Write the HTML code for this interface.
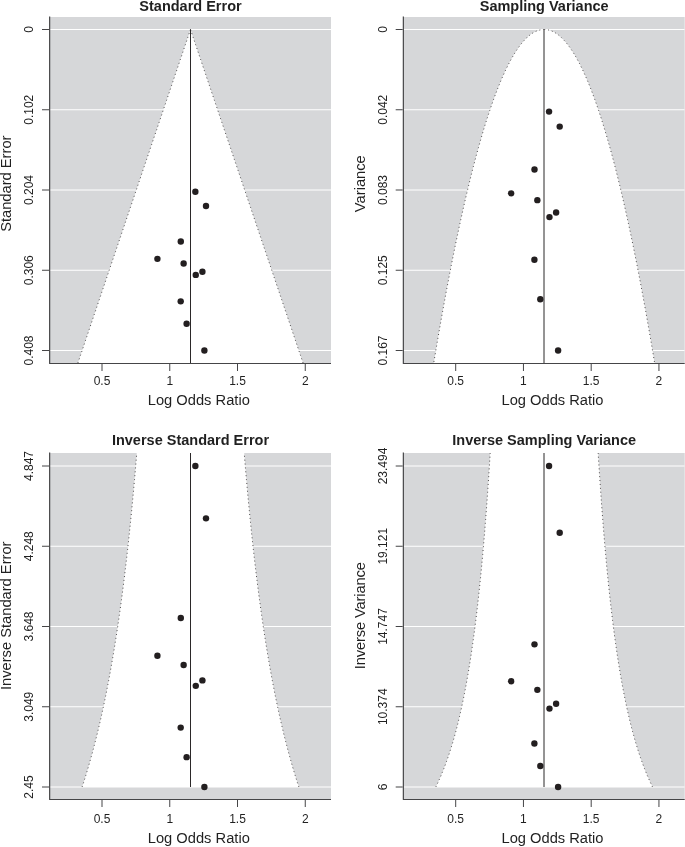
<!DOCTYPE html>
<html><head><meta charset="utf-8"><title>Funnel plots</title>
<style>
html,body{margin:0;padding:0;background:#fff;}
body{width:685px;height:847px;overflow:hidden;}
svg{display:block;font-family:"Liberation Sans",sans-serif;fill:#231f20;}
</style></head><body>
<svg width="685" height="847" viewBox="0 0 685 847">
<defs><filter id="gs" color-interpolation-filters="sRGB"><feColorMatrix type="saturate" values="0"/></filter></defs>
<rect width="685" height="847" fill="#fff"/>
<g transform="translate(0,0)">
<clipPath id="c1"><rect x="50.0" y="17.0" width="281" height="346.5"/></clipPath>
<rect x="50.0" y="17.0" width="281" height="346.5" fill="#d6d7d9"/>
<g clip-path="url(#c1)">
<line x1="50.0" x2="331" y1="29.5" y2="29.5" stroke="#fff" stroke-width="1"/>
<line x1="50.0" x2="331" y1="109.75" y2="109.75" stroke="#fff" stroke-width="1"/>
<line x1="50.0" x2="331" y1="190" y2="190" stroke="#fff" stroke-width="1"/>
<line x1="50.0" x2="331" y1="270.25" y2="270.25" stroke="#fff" stroke-width="1"/>
<line x1="50.0" x2="331" y1="350.5" y2="350.5" stroke="#fff" stroke-width="1"/>
<path d="M190.48,29.5 L190.18,30.39 L189.88,31.27 L189.59,32.16 L189.29,33.04 L188.99,33.93 L188.69,34.81 L188.39,35.7 L188.09,36.58 L187.79,37.47 L187.49,38.35 L187.19,39.24 L186.9,40.12 L186.6,41.01 L186.3,41.89 L186,42.78 L185.7,43.66 L185.4,44.55 L185.1,45.43 L184.8,46.32 L184.51,47.2 L184.21,48.09 L183.91,48.97 L183.61,49.86 L183.31,50.74 L183.01,51.63 L182.71,52.51 L182.41,53.4 L182.12,54.28 L181.82,55.17 L181.52,56.05 L181.22,56.94 L180.92,57.82 L180.62,58.71 L180.32,59.59 L180.02,60.48 L179.73,61.36 L179.43,62.25 L179.13,63.13 L178.83,64.02 L178.53,64.9 L178.23,65.79 L177.93,66.67 L177.63,67.56 L177.34,68.44 L177.04,69.33 L176.74,70.22 L176.44,71.1 L176.14,71.99 L175.84,72.87 L175.54,73.76 L175.24,74.64 L174.95,75.53 L174.65,76.41 L174.35,77.3 L174.05,78.18 L173.75,79.07 L173.45,79.95 L173.15,80.84 L172.85,81.72 L172.55,82.61 L172.26,83.49 L171.96,84.38 L171.66,85.26 L171.36,86.15 L171.06,87.03 L170.76,87.92 L170.46,88.8 L170.16,89.69 L169.87,90.57 L169.57,91.46 L169.27,92.34 L168.97,93.23 L168.67,94.11 L168.37,95 L168.07,95.88 L167.77,96.77 L167.48,97.65 L167.18,98.54 L166.88,99.42 L166.58,100.31 L166.28,101.19 L165.98,102.08 L165.68,102.96 L165.38,103.85 L165.09,104.73 L164.79,105.62 L164.49,106.5 L164.19,107.39 L163.89,108.27 L163.59,109.16 L163.29,110.05 L162.99,110.93 L162.7,111.82 L162.4,112.7 L162.1,113.59 L161.8,114.47 L161.5,115.36 L161.2,116.24 L160.9,117.13 L160.6,118.01 L160.3,118.9 L160.01,119.78 L159.71,120.67 L159.41,121.55 L159.11,122.44 L158.81,123.32 L158.51,124.21 L158.21,125.09 L157.91,125.98 L157.62,126.86 L157.32,127.75 L157.02,128.63 L156.72,129.52 L156.42,130.4 L156.12,131.29 L155.82,132.17 L155.52,133.06 L155.23,133.94 L154.93,134.83 L154.63,135.71 L154.33,136.6 L154.03,137.48 L153.73,138.37 L153.43,139.25 L153.13,140.14 L152.84,141.02 L152.54,141.91 L152.24,142.79 L151.94,143.68 L151.64,144.56 L151.34,145.45 L151.04,146.33 L150.74,147.22 L150.45,148.1 L150.15,148.99 L149.85,149.88 L149.55,150.76 L149.25,151.65 L148.95,152.53 L148.65,153.42 L148.35,154.3 L148.06,155.19 L147.76,156.07 L147.46,156.96 L147.16,157.84 L146.86,158.73 L146.56,159.61 L146.26,160.5 L145.96,161.38 L145.66,162.27 L145.37,163.15 L145.07,164.04 L144.77,164.92 L144.47,165.81 L144.17,166.69 L143.87,167.58 L143.57,168.46 L143.27,169.35 L142.98,170.23 L142.68,171.12 L142.38,172 L142.08,172.89 L141.78,173.77 L141.48,174.66 L141.18,175.54 L140.88,176.43 L140.59,177.31 L140.29,178.2 L139.99,179.08 L139.69,179.97 L139.39,180.85 L139.09,181.74 L138.79,182.62 L138.49,183.51 L138.2,184.39 L137.9,185.28 L137.6,186.16 L137.3,187.05 L137,187.93 L136.7,188.82 L136.4,189.7 L136.1,190.59 L135.81,191.48 L135.51,192.36 L135.21,193.25 L134.91,194.13 L134.61,195.02 L134.31,195.9 L134.01,196.79 L133.71,197.67 L133.41,198.56 L133.12,199.44 L132.82,200.33 L132.52,201.21 L132.22,202.1 L131.92,202.98 L131.62,203.87 L131.32,204.75 L131.02,205.64 L130.73,206.52 L130.43,207.41 L130.13,208.29 L129.83,209.18 L129.53,210.06 L129.23,210.95 L128.93,211.83 L128.63,212.72 L128.34,213.6 L128.04,214.49 L127.74,215.37 L127.44,216.26 L127.14,217.14 L126.84,218.03 L126.54,218.91 L126.24,219.8 L125.95,220.68 L125.65,221.57 L125.35,222.45 L125.05,223.34 L124.75,224.22 L124.45,225.11 L124.15,225.99 L123.85,226.88 L123.56,227.76 L123.26,228.65 L122.96,229.53 L122.66,230.42 L122.36,231.31 L122.06,232.19 L121.76,233.08 L121.46,233.96 L121.17,234.85 L120.87,235.73 L120.57,236.62 L120.27,237.5 L119.97,238.39 L119.67,239.27 L119.37,240.16 L119.07,241.04 L118.77,241.93 L118.48,242.81 L118.18,243.7 L117.88,244.58 L117.58,245.47 L117.28,246.35 L116.98,247.24 L116.68,248.12 L116.38,249.01 L116.09,249.89 L115.79,250.78 L115.49,251.66 L115.19,252.55 L114.89,253.43 L114.59,254.32 L114.29,255.2 L113.99,256.09 L113.7,256.97 L113.4,257.86 L113.1,258.74 L112.8,259.63 L112.5,260.51 L112.2,261.4 L111.9,262.28 L111.6,263.17 L111.31,264.05 L111.01,264.94 L110.71,265.82 L110.41,266.71 L110.11,267.59 L109.81,268.48 L109.51,269.36 L109.21,270.25 L108.92,271.14 L108.62,272.02 L108.32,272.91 L108.02,273.79 L107.72,274.68 L107.42,275.56 L107.12,276.45 L106.82,277.33 L106.53,278.22 L106.23,279.1 L105.93,279.99 L105.63,280.87 L105.33,281.76 L105.03,282.64 L104.73,283.53 L104.43,284.41 L104.13,285.3 L103.84,286.18 L103.54,287.07 L103.24,287.95 L102.94,288.84 L102.64,289.72 L102.34,290.61 L102.04,291.49 L101.74,292.38 L101.45,293.26 L101.15,294.15 L100.85,295.03 L100.55,295.92 L100.25,296.8 L99.95,297.69 L99.65,298.57 L99.35,299.46 L99.06,300.34 L98.76,301.23 L98.46,302.11 L98.16,303 L97.86,303.88 L97.56,304.77 L97.26,305.65 L96.96,306.54 L96.67,307.42 L96.37,308.31 L96.07,309.19 L95.77,310.08 L95.47,310.97 L95.17,311.85 L94.87,312.74 L94.57,313.62 L94.28,314.51 L93.98,315.39 L93.68,316.28 L93.38,317.16 L93.08,318.05 L92.78,318.93 L92.48,319.82 L92.18,320.7 L91.88,321.59 L91.59,322.47 L91.29,323.36 L90.99,324.24 L90.69,325.13 L90.39,326.01 L90.09,326.9 L89.79,327.78 L89.49,328.67 L89.2,329.55 L88.9,330.44 L88.6,331.32 L88.3,332.21 L88,333.09 L87.7,333.98 L87.4,334.86 L87.1,335.75 L86.81,336.63 L86.51,337.52 L86.21,338.4 L85.91,339.29 L85.61,340.17 L85.31,341.06 L85.01,341.94 L84.71,342.83 L84.42,343.71 L84.12,344.6 L83.82,345.48 L83.52,346.37 L83.22,347.25 L82.92,348.14 L82.62,349.02 L82.32,349.91 L82.03,350.8 L81.73,351.68 L81.43,352.57 L81.13,353.45 L80.83,354.34 L80.53,355.22 L80.23,356.11 L79.93,356.99 L79.64,357.88 L79.34,358.76 L79.04,359.65 L78.74,360.53 L78.44,361.42 L78.14,362.3 L77.84,363.19 L77.54,364.07 L77.24,364.96 L76.95,365.84 L76.65,366.73 L76.35,367.61 L76.05,368.5 L75.75,369.38 L75.45,370.27 L75.15,371.15 L74.85,372.04 L74.56,372.92 L74.26,373.81 L73.96,374.69 L73.66,375.58 L73.36,376.46 L73.06,377.35 L72.76,378.23 L72.46,379.12 L72.17,380 L71.87,380.89 L71.57,381.77 L71.27,382.66 L70.97,383.54 L309.99,383.54 L309.69,382.66 L309.39,381.77 L309.1,380.89 L308.8,380 L308.5,379.12 L308.2,378.23 L307.9,377.35 L307.6,376.46 L307.3,375.58 L307,374.69 L306.71,373.81 L306.41,372.92 L306.11,372.04 L305.81,371.15 L305.51,370.27 L305.21,369.38 L304.91,368.5 L304.61,367.61 L304.32,366.73 L304.02,365.84 L303.72,364.96 L303.42,364.07 L303.12,363.19 L302.82,362.3 L302.52,361.42 L302.22,360.53 L301.93,359.65 L301.63,358.76 L301.33,357.88 L301.03,356.99 L300.73,356.11 L300.43,355.22 L300.13,354.34 L299.83,353.45 L299.54,352.57 L299.24,351.68 L298.94,350.8 L298.64,349.91 L298.34,349.02 L298.04,348.14 L297.74,347.25 L297.44,346.37 L297.15,345.48 L296.85,344.6 L296.55,343.71 L296.25,342.83 L295.95,341.94 L295.65,341.06 L295.35,340.17 L295.05,339.29 L294.75,338.4 L294.46,337.52 L294.16,336.63 L293.86,335.75 L293.56,334.86 L293.26,333.98 L292.96,333.09 L292.66,332.21 L292.36,331.32 L292.07,330.44 L291.77,329.55 L291.47,328.67 L291.17,327.78 L290.87,326.9 L290.57,326.01 L290.27,325.13 L289.97,324.24 L289.68,323.36 L289.38,322.47 L289.08,321.59 L288.78,320.7 L288.48,319.82 L288.18,318.93 L287.88,318.05 L287.58,317.16 L287.29,316.28 L286.99,315.39 L286.69,314.51 L286.39,313.62 L286.09,312.74 L285.79,311.85 L285.49,310.97 L285.19,310.08 L284.9,309.19 L284.6,308.31 L284.3,307.42 L284,306.54 L283.7,305.65 L283.4,304.77 L283.1,303.88 L282.8,303 L282.5,302.11 L282.21,301.23 L281.91,300.34 L281.61,299.46 L281.31,298.57 L281.01,297.69 L280.71,296.8 L280.41,295.92 L280.11,295.03 L279.82,294.15 L279.52,293.26 L279.22,292.38 L278.92,291.49 L278.62,290.61 L278.32,289.72 L278.02,288.84 L277.72,287.95 L277.43,287.07 L277.13,286.18 L276.83,285.3 L276.53,284.41 L276.23,283.53 L275.93,282.64 L275.63,281.76 L275.33,280.87 L275.04,279.99 L274.74,279.1 L274.44,278.22 L274.14,277.33 L273.84,276.45 L273.54,275.56 L273.24,274.68 L272.94,273.79 L272.65,272.91 L272.35,272.02 L272.05,271.14 L271.75,270.25 L271.45,269.36 L271.15,268.48 L270.85,267.59 L270.55,266.71 L270.26,265.82 L269.96,264.94 L269.66,264.05 L269.36,263.17 L269.06,262.28 L268.76,261.4 L268.46,260.51 L268.16,259.63 L267.86,258.74 L267.57,257.86 L267.27,256.97 L266.97,256.09 L266.67,255.2 L266.37,254.32 L266.07,253.43 L265.77,252.55 L265.47,251.66 L265.18,250.78 L264.88,249.89 L264.58,249.01 L264.28,248.12 L263.98,247.24 L263.68,246.35 L263.38,245.47 L263.08,244.58 L262.79,243.7 L262.49,242.81 L262.19,241.93 L261.89,241.04 L261.59,240.16 L261.29,239.27 L260.99,238.39 L260.69,237.5 L260.4,236.62 L260.1,235.73 L259.8,234.85 L259.5,233.96 L259.2,233.08 L258.9,232.19 L258.6,231.31 L258.3,230.42 L258.01,229.53 L257.71,228.65 L257.41,227.76 L257.11,226.88 L256.81,225.99 L256.51,225.11 L256.21,224.22 L255.91,223.34 L255.61,222.45 L255.32,221.57 L255.02,220.68 L254.72,219.8 L254.42,218.91 L254.12,218.03 L253.82,217.14 L253.52,216.26 L253.22,215.37 L252.93,214.49 L252.63,213.6 L252.33,212.72 L252.03,211.83 L251.73,210.95 L251.43,210.06 L251.13,209.18 L250.83,208.29 L250.54,207.41 L250.24,206.52 L249.94,205.64 L249.64,204.75 L249.34,203.87 L249.04,202.98 L248.74,202.1 L248.44,201.21 L248.15,200.33 L247.85,199.44 L247.55,198.56 L247.25,197.67 L246.95,196.79 L246.65,195.9 L246.35,195.02 L246.05,194.13 L245.76,193.25 L245.46,192.36 L245.16,191.48 L244.86,190.59 L244.56,189.7 L244.26,188.82 L243.96,187.93 L243.66,187.05 L243.37,186.16 L243.07,185.28 L242.77,184.39 L242.47,183.51 L242.17,182.62 L241.87,181.74 L241.57,180.85 L241.27,179.97 L240.97,179.08 L240.68,178.2 L240.38,177.31 L240.08,176.43 L239.78,175.54 L239.48,174.66 L239.18,173.77 L238.88,172.89 L238.58,172 L238.29,171.12 L237.99,170.23 L237.69,169.35 L237.39,168.46 L237.09,167.58 L236.79,166.69 L236.49,165.81 L236.19,164.92 L235.9,164.04 L235.6,163.15 L235.3,162.27 L235,161.38 L234.7,160.5 L234.4,159.61 L234.1,158.73 L233.8,157.84 L233.51,156.96 L233.21,156.07 L232.91,155.19 L232.61,154.3 L232.31,153.42 L232.01,152.53 L231.71,151.65 L231.41,150.76 L231.12,149.88 L230.82,148.99 L230.52,148.1 L230.22,147.22 L229.92,146.33 L229.62,145.45 L229.32,144.56 L229.02,143.68 L228.73,142.79 L228.43,141.91 L228.13,141.02 L227.83,140.14 L227.53,139.25 L227.23,138.37 L226.93,137.48 L226.63,136.6 L226.33,135.71 L226.04,134.83 L225.74,133.94 L225.44,133.06 L225.14,132.17 L224.84,131.29 L224.54,130.4 L224.24,129.52 L223.94,128.63 L223.65,127.75 L223.35,126.86 L223.05,125.98 L222.75,125.09 L222.45,124.21 L222.15,123.32 L221.85,122.44 L221.55,121.55 L221.26,120.67 L220.96,119.78 L220.66,118.9 L220.36,118.01 L220.06,117.13 L219.76,116.24 L219.46,115.36 L219.16,114.47 L218.87,113.59 L218.57,112.7 L218.27,111.82 L217.97,110.93 L217.67,110.05 L217.37,109.16 L217.07,108.27 L216.77,107.39 L216.48,106.5 L216.18,105.62 L215.88,104.73 L215.58,103.85 L215.28,102.96 L214.98,102.08 L214.68,101.19 L214.38,100.31 L214.08,99.42 L213.79,98.54 L213.49,97.65 L213.19,96.77 L212.89,95.88 L212.59,95 L212.29,94.11 L211.99,93.23 L211.69,92.34 L211.4,91.46 L211.1,90.57 L210.8,89.69 L210.5,88.8 L210.2,87.92 L209.9,87.03 L209.6,86.15 L209.3,85.26 L209.01,84.38 L208.71,83.49 L208.41,82.61 L208.11,81.72 L207.81,80.84 L207.51,79.95 L207.21,79.07 L206.91,78.18 L206.62,77.3 L206.32,76.41 L206.02,75.53 L205.72,74.64 L205.42,73.76 L205.12,72.87 L204.82,71.99 L204.52,71.1 L204.23,70.22 L203.93,69.33 L203.63,68.44 L203.33,67.56 L203.03,66.67 L202.73,65.79 L202.43,64.9 L202.13,64.02 L201.84,63.13 L201.54,62.25 L201.24,61.36 L200.94,60.48 L200.64,59.59 L200.34,58.71 L200.04,57.82 L199.74,56.94 L199.44,56.05 L199.15,55.17 L198.85,54.28 L198.55,53.4 L198.25,52.51 L197.95,51.63 L197.65,50.74 L197.35,49.86 L197.05,48.97 L196.76,48.09 L196.46,47.2 L196.16,46.32 L195.86,45.43 L195.56,44.55 L195.26,43.66 L194.96,42.78 L194.66,41.89 L194.37,41.01 L194.07,40.12 L193.77,39.24 L193.47,38.35 L193.17,37.47 L192.87,36.58 L192.57,35.7 L192.27,34.81 L191.98,33.93 L191.68,33.04 L191.38,32.16 L191.08,31.27 L190.78,30.39 L190.48,29.5Z" fill="#fff"/>
<path d="M190.48,29.5 L190.18,30.39 L189.88,31.27 L189.59,32.16 L189.29,33.04 L188.99,33.93 L188.69,34.81 L188.39,35.7 L188.09,36.58 L187.79,37.47 L187.49,38.35 L187.19,39.24 L186.9,40.12 L186.6,41.01 L186.3,41.89 L186,42.78 L185.7,43.66 L185.4,44.55 L185.1,45.43 L184.8,46.32 L184.51,47.2 L184.21,48.09 L183.91,48.97 L183.61,49.86 L183.31,50.74 L183.01,51.63 L182.71,52.51 L182.41,53.4 L182.12,54.28 L181.82,55.17 L181.52,56.05 L181.22,56.94 L180.92,57.82 L180.62,58.71 L180.32,59.59 L180.02,60.48 L179.73,61.36 L179.43,62.25 L179.13,63.13 L178.83,64.02 L178.53,64.9 L178.23,65.79 L177.93,66.67 L177.63,67.56 L177.34,68.44 L177.04,69.33 L176.74,70.22 L176.44,71.1 L176.14,71.99 L175.84,72.87 L175.54,73.76 L175.24,74.64 L174.95,75.53 L174.65,76.41 L174.35,77.3 L174.05,78.18 L173.75,79.07 L173.45,79.95 L173.15,80.84 L172.85,81.72 L172.55,82.61 L172.26,83.49 L171.96,84.38 L171.66,85.26 L171.36,86.15 L171.06,87.03 L170.76,87.92 L170.46,88.8 L170.16,89.69 L169.87,90.57 L169.57,91.46 L169.27,92.34 L168.97,93.23 L168.67,94.11 L168.37,95 L168.07,95.88 L167.77,96.77 L167.48,97.65 L167.18,98.54 L166.88,99.42 L166.58,100.31 L166.28,101.19 L165.98,102.08 L165.68,102.96 L165.38,103.85 L165.09,104.73 L164.79,105.62 L164.49,106.5 L164.19,107.39 L163.89,108.27 L163.59,109.16 L163.29,110.05 L162.99,110.93 L162.7,111.82 L162.4,112.7 L162.1,113.59 L161.8,114.47 L161.5,115.36 L161.2,116.24 L160.9,117.13 L160.6,118.01 L160.3,118.9 L160.01,119.78 L159.71,120.67 L159.41,121.55 L159.11,122.44 L158.81,123.32 L158.51,124.21 L158.21,125.09 L157.91,125.98 L157.62,126.86 L157.32,127.75 L157.02,128.63 L156.72,129.52 L156.42,130.4 L156.12,131.29 L155.82,132.17 L155.52,133.06 L155.23,133.94 L154.93,134.83 L154.63,135.71 L154.33,136.6 L154.03,137.48 L153.73,138.37 L153.43,139.25 L153.13,140.14 L152.84,141.02 L152.54,141.91 L152.24,142.79 L151.94,143.68 L151.64,144.56 L151.34,145.45 L151.04,146.33 L150.74,147.22 L150.45,148.1 L150.15,148.99 L149.85,149.88 L149.55,150.76 L149.25,151.65 L148.95,152.53 L148.65,153.42 L148.35,154.3 L148.06,155.19 L147.76,156.07 L147.46,156.96 L147.16,157.84 L146.86,158.73 L146.56,159.61 L146.26,160.5 L145.96,161.38 L145.66,162.27 L145.37,163.15 L145.07,164.04 L144.77,164.92 L144.47,165.81 L144.17,166.69 L143.87,167.58 L143.57,168.46 L143.27,169.35 L142.98,170.23 L142.68,171.12 L142.38,172 L142.08,172.89 L141.78,173.77 L141.48,174.66 L141.18,175.54 L140.88,176.43 L140.59,177.31 L140.29,178.2 L139.99,179.08 L139.69,179.97 L139.39,180.85 L139.09,181.74 L138.79,182.62 L138.49,183.51 L138.2,184.39 L137.9,185.28 L137.6,186.16 L137.3,187.05 L137,187.93 L136.7,188.82 L136.4,189.7 L136.1,190.59 L135.81,191.48 L135.51,192.36 L135.21,193.25 L134.91,194.13 L134.61,195.02 L134.31,195.9 L134.01,196.79 L133.71,197.67 L133.41,198.56 L133.12,199.44 L132.82,200.33 L132.52,201.21 L132.22,202.1 L131.92,202.98 L131.62,203.87 L131.32,204.75 L131.02,205.64 L130.73,206.52 L130.43,207.41 L130.13,208.29 L129.83,209.18 L129.53,210.06 L129.23,210.95 L128.93,211.83 L128.63,212.72 L128.34,213.6 L128.04,214.49 L127.74,215.37 L127.44,216.26 L127.14,217.14 L126.84,218.03 L126.54,218.91 L126.24,219.8 L125.95,220.68 L125.65,221.57 L125.35,222.45 L125.05,223.34 L124.75,224.22 L124.45,225.11 L124.15,225.99 L123.85,226.88 L123.56,227.76 L123.26,228.65 L122.96,229.53 L122.66,230.42 L122.36,231.31 L122.06,232.19 L121.76,233.08 L121.46,233.96 L121.17,234.85 L120.87,235.73 L120.57,236.62 L120.27,237.5 L119.97,238.39 L119.67,239.27 L119.37,240.16 L119.07,241.04 L118.77,241.93 L118.48,242.81 L118.18,243.7 L117.88,244.58 L117.58,245.47 L117.28,246.35 L116.98,247.24 L116.68,248.12 L116.38,249.01 L116.09,249.89 L115.79,250.78 L115.49,251.66 L115.19,252.55 L114.89,253.43 L114.59,254.32 L114.29,255.2 L113.99,256.09 L113.7,256.97 L113.4,257.86 L113.1,258.74 L112.8,259.63 L112.5,260.51 L112.2,261.4 L111.9,262.28 L111.6,263.17 L111.31,264.05 L111.01,264.94 L110.71,265.82 L110.41,266.71 L110.11,267.59 L109.81,268.48 L109.51,269.36 L109.21,270.25 L108.92,271.14 L108.62,272.02 L108.32,272.91 L108.02,273.79 L107.72,274.68 L107.42,275.56 L107.12,276.45 L106.82,277.33 L106.53,278.22 L106.23,279.1 L105.93,279.99 L105.63,280.87 L105.33,281.76 L105.03,282.64 L104.73,283.53 L104.43,284.41 L104.13,285.3 L103.84,286.18 L103.54,287.07 L103.24,287.95 L102.94,288.84 L102.64,289.72 L102.34,290.61 L102.04,291.49 L101.74,292.38 L101.45,293.26 L101.15,294.15 L100.85,295.03 L100.55,295.92 L100.25,296.8 L99.95,297.69 L99.65,298.57 L99.35,299.46 L99.06,300.34 L98.76,301.23 L98.46,302.11 L98.16,303 L97.86,303.88 L97.56,304.77 L97.26,305.65 L96.96,306.54 L96.67,307.42 L96.37,308.31 L96.07,309.19 L95.77,310.08 L95.47,310.97 L95.17,311.85 L94.87,312.74 L94.57,313.62 L94.28,314.51 L93.98,315.39 L93.68,316.28 L93.38,317.16 L93.08,318.05 L92.78,318.93 L92.48,319.82 L92.18,320.7 L91.88,321.59 L91.59,322.47 L91.29,323.36 L90.99,324.24 L90.69,325.13 L90.39,326.01 L90.09,326.9 L89.79,327.78 L89.49,328.67 L89.2,329.55 L88.9,330.44 L88.6,331.32 L88.3,332.21 L88,333.09 L87.7,333.98 L87.4,334.86 L87.1,335.75 L86.81,336.63 L86.51,337.52 L86.21,338.4 L85.91,339.29 L85.61,340.17 L85.31,341.06 L85.01,341.94 L84.71,342.83 L84.42,343.71 L84.12,344.6 L83.82,345.48 L83.52,346.37 L83.22,347.25 L82.92,348.14 L82.62,349.02 L82.32,349.91 L82.03,350.8 L81.73,351.68 L81.43,352.57 L81.13,353.45 L80.83,354.34 L80.53,355.22 L80.23,356.11 L79.93,356.99 L79.64,357.88 L79.34,358.76 L79.04,359.65 L78.74,360.53 L78.44,361.42 L78.14,362.3 L77.84,363.19 L77.54,364.07 L77.24,364.96 L76.95,365.84 L76.65,366.73 L76.35,367.61 L76.05,368.5 L75.75,369.38 L75.45,370.27 L75.15,371.15 L74.85,372.04 L74.56,372.92 L74.26,373.81 L73.96,374.69 L73.66,375.58 L73.36,376.46 L73.06,377.35 L72.76,378.23 L72.46,379.12 L72.17,380 L71.87,380.89 L71.57,381.77 L71.27,382.66 L70.97,383.54" fill="none" stroke="#231f20" stroke-width="0.8" stroke-dasharray="1 2.9"/>
<path d="M190.48,29.5 L190.78,30.39 L191.08,31.27 L191.38,32.16 L191.68,33.04 L191.98,33.93 L192.27,34.81 L192.57,35.7 L192.87,36.58 L193.17,37.47 L193.47,38.35 L193.77,39.24 L194.07,40.12 L194.37,41.01 L194.66,41.89 L194.96,42.78 L195.26,43.66 L195.56,44.55 L195.86,45.43 L196.16,46.32 L196.46,47.2 L196.76,48.09 L197.05,48.97 L197.35,49.86 L197.65,50.74 L197.95,51.63 L198.25,52.51 L198.55,53.4 L198.85,54.28 L199.15,55.17 L199.44,56.05 L199.74,56.94 L200.04,57.82 L200.34,58.71 L200.64,59.59 L200.94,60.48 L201.24,61.36 L201.54,62.25 L201.84,63.13 L202.13,64.02 L202.43,64.9 L202.73,65.79 L203.03,66.67 L203.33,67.56 L203.63,68.44 L203.93,69.33 L204.23,70.22 L204.52,71.1 L204.82,71.99 L205.12,72.87 L205.42,73.76 L205.72,74.64 L206.02,75.53 L206.32,76.41 L206.62,77.3 L206.91,78.18 L207.21,79.07 L207.51,79.95 L207.81,80.84 L208.11,81.72 L208.41,82.61 L208.71,83.49 L209.01,84.38 L209.3,85.26 L209.6,86.15 L209.9,87.03 L210.2,87.92 L210.5,88.8 L210.8,89.69 L211.1,90.57 L211.4,91.46 L211.69,92.34 L211.99,93.23 L212.29,94.11 L212.59,95 L212.89,95.88 L213.19,96.77 L213.49,97.65 L213.79,98.54 L214.08,99.42 L214.38,100.31 L214.68,101.19 L214.98,102.08 L215.28,102.96 L215.58,103.85 L215.88,104.73 L216.18,105.62 L216.48,106.5 L216.77,107.39 L217.07,108.27 L217.37,109.16 L217.67,110.05 L217.97,110.93 L218.27,111.82 L218.57,112.7 L218.87,113.59 L219.16,114.47 L219.46,115.36 L219.76,116.24 L220.06,117.13 L220.36,118.01 L220.66,118.9 L220.96,119.78 L221.26,120.67 L221.55,121.55 L221.85,122.44 L222.15,123.32 L222.45,124.21 L222.75,125.09 L223.05,125.98 L223.35,126.86 L223.65,127.75 L223.94,128.63 L224.24,129.52 L224.54,130.4 L224.84,131.29 L225.14,132.17 L225.44,133.06 L225.74,133.94 L226.04,134.83 L226.33,135.71 L226.63,136.6 L226.93,137.48 L227.23,138.37 L227.53,139.25 L227.83,140.14 L228.13,141.02 L228.43,141.91 L228.73,142.79 L229.02,143.68 L229.32,144.56 L229.62,145.45 L229.92,146.33 L230.22,147.22 L230.52,148.1 L230.82,148.99 L231.12,149.88 L231.41,150.76 L231.71,151.65 L232.01,152.53 L232.31,153.42 L232.61,154.3 L232.91,155.19 L233.21,156.07 L233.51,156.96 L233.8,157.84 L234.1,158.73 L234.4,159.61 L234.7,160.5 L235,161.38 L235.3,162.27 L235.6,163.15 L235.9,164.04 L236.19,164.92 L236.49,165.81 L236.79,166.69 L237.09,167.58 L237.39,168.46 L237.69,169.35 L237.99,170.23 L238.29,171.12 L238.58,172 L238.88,172.89 L239.18,173.77 L239.48,174.66 L239.78,175.54 L240.08,176.43 L240.38,177.31 L240.68,178.2 L240.97,179.08 L241.27,179.97 L241.57,180.85 L241.87,181.74 L242.17,182.62 L242.47,183.51 L242.77,184.39 L243.07,185.28 L243.37,186.16 L243.66,187.05 L243.96,187.93 L244.26,188.82 L244.56,189.7 L244.86,190.59 L245.16,191.48 L245.46,192.36 L245.76,193.25 L246.05,194.13 L246.35,195.02 L246.65,195.9 L246.95,196.79 L247.25,197.67 L247.55,198.56 L247.85,199.44 L248.15,200.33 L248.44,201.21 L248.74,202.1 L249.04,202.98 L249.34,203.87 L249.64,204.75 L249.94,205.64 L250.24,206.52 L250.54,207.41 L250.83,208.29 L251.13,209.18 L251.43,210.06 L251.73,210.95 L252.03,211.83 L252.33,212.72 L252.63,213.6 L252.93,214.49 L253.22,215.37 L253.52,216.26 L253.82,217.14 L254.12,218.03 L254.42,218.91 L254.72,219.8 L255.02,220.68 L255.32,221.57 L255.61,222.45 L255.91,223.34 L256.21,224.22 L256.51,225.11 L256.81,225.99 L257.11,226.88 L257.41,227.76 L257.71,228.65 L258.01,229.53 L258.3,230.42 L258.6,231.31 L258.9,232.19 L259.2,233.08 L259.5,233.96 L259.8,234.85 L260.1,235.73 L260.4,236.62 L260.69,237.5 L260.99,238.39 L261.29,239.27 L261.59,240.16 L261.89,241.04 L262.19,241.93 L262.49,242.81 L262.79,243.7 L263.08,244.58 L263.38,245.47 L263.68,246.35 L263.98,247.24 L264.28,248.12 L264.58,249.01 L264.88,249.89 L265.18,250.78 L265.47,251.66 L265.77,252.55 L266.07,253.43 L266.37,254.32 L266.67,255.2 L266.97,256.09 L267.27,256.97 L267.57,257.86 L267.86,258.74 L268.16,259.63 L268.46,260.51 L268.76,261.4 L269.06,262.28 L269.36,263.17 L269.66,264.05 L269.96,264.94 L270.26,265.82 L270.55,266.71 L270.85,267.59 L271.15,268.48 L271.45,269.36 L271.75,270.25 L272.05,271.14 L272.35,272.02 L272.65,272.91 L272.94,273.79 L273.24,274.68 L273.54,275.56 L273.84,276.45 L274.14,277.33 L274.44,278.22 L274.74,279.1 L275.04,279.99 L275.33,280.87 L275.63,281.76 L275.93,282.64 L276.23,283.53 L276.53,284.41 L276.83,285.3 L277.13,286.18 L277.43,287.07 L277.72,287.95 L278.02,288.84 L278.32,289.72 L278.62,290.61 L278.92,291.49 L279.22,292.38 L279.52,293.26 L279.82,294.15 L280.11,295.03 L280.41,295.92 L280.71,296.8 L281.01,297.69 L281.31,298.57 L281.61,299.46 L281.91,300.34 L282.21,301.23 L282.5,302.11 L282.8,303 L283.1,303.88 L283.4,304.77 L283.7,305.65 L284,306.54 L284.3,307.42 L284.6,308.31 L284.9,309.19 L285.19,310.08 L285.49,310.97 L285.79,311.85 L286.09,312.74 L286.39,313.62 L286.69,314.51 L286.99,315.39 L287.29,316.28 L287.58,317.16 L287.88,318.05 L288.18,318.93 L288.48,319.82 L288.78,320.7 L289.08,321.59 L289.38,322.47 L289.68,323.36 L289.97,324.24 L290.27,325.13 L290.57,326.01 L290.87,326.9 L291.17,327.78 L291.47,328.67 L291.77,329.55 L292.07,330.44 L292.36,331.32 L292.66,332.21 L292.96,333.09 L293.26,333.98 L293.56,334.86 L293.86,335.75 L294.16,336.63 L294.46,337.52 L294.75,338.4 L295.05,339.29 L295.35,340.17 L295.65,341.06 L295.95,341.94 L296.25,342.83 L296.55,343.71 L296.85,344.6 L297.15,345.48 L297.44,346.37 L297.74,347.25 L298.04,348.14 L298.34,349.02 L298.64,349.91 L298.94,350.8 L299.24,351.68 L299.54,352.57 L299.83,353.45 L300.13,354.34 L300.43,355.22 L300.73,356.11 L301.03,356.99 L301.33,357.88 L301.63,358.76 L301.93,359.65 L302.22,360.53 L302.52,361.42 L302.82,362.3 L303.12,363.19 L303.42,364.07 L303.72,364.96 L304.02,365.84 L304.32,366.73 L304.61,367.61 L304.91,368.5 L305.21,369.38 L305.51,370.27 L305.81,371.15 L306.11,372.04 L306.41,372.92 L306.71,373.81 L307,374.69 L307.3,375.58 L307.6,376.46 L307.9,377.35 L308.2,378.23 L308.5,379.12 L308.8,380 L309.1,380.89 L309.39,381.77 L309.69,382.66 L309.99,383.54" fill="none" stroke="#231f20" stroke-width="0.8" stroke-dasharray="1 2.9"/>
</g>
<line x1="190.5" x2="190.5" y1="29.5" y2="363.5" stroke="#2b2829" stroke-width="1"/>
<circle cx="195.36" cy="191.82" r="3.2" fill="#231f20"/>
<circle cx="206" cy="206.05" r="3.2" fill="#231f20"/>
<circle cx="180.79" cy="241.45" r="3.2" fill="#231f20"/>
<circle cx="157.42" cy="258.84" r="3.2" fill="#231f20"/>
<circle cx="183.65" cy="263.56" r="3.2" fill="#231f20"/>
<circle cx="202.41" cy="271.82" r="3.2" fill="#231f20"/>
<circle cx="195.77" cy="274.89" r="3.2" fill="#231f20"/>
<circle cx="180.7" cy="301.33" r="3.2" fill="#231f20"/>
<circle cx="186.61" cy="323.75" r="3.2" fill="#231f20"/>
<circle cx="204.4" cy="350.5" r="3.2" fill="#231f20"/>
<path d="M49.65,16.5 V363.5 H331" fill="none" stroke="#454547" stroke-width="1.2" stroke-linejoin="round"/>
<line x1="42" x2="49" y1="29.5" y2="29.5" stroke="#454547" stroke-width="1"/>
<line x1="42" x2="49" y1="109.75" y2="109.75" stroke="#454547" stroke-width="1"/>
<line x1="42" x2="49" y1="190" y2="190" stroke="#454547" stroke-width="1"/>
<line x1="42" x2="49" y1="270.25" y2="270.25" stroke="#454547" stroke-width="1"/>
<line x1="42" x2="49" y1="350.5" y2="350.5" stroke="#454547" stroke-width="1"/>
<line x1="102" x2="102" y1="364" y2="371" stroke="#454547" stroke-width="1"/>
<line x1="169.75" x2="169.75" y1="364" y2="371" stroke="#454547" stroke-width="1"/>
<line x1="237.5" x2="237.5" y1="364" y2="371" stroke="#454547" stroke-width="1"/>
<line x1="305.25" x2="305.25" y1="364" y2="371" stroke="#454547" stroke-width="1"/>
<g filter="url(#gs)"><text transform="translate(32.8,29.5) rotate(-90)" text-anchor="middle" font-size="12">0</text>
<text transform="translate(32.8,109.75) rotate(-90)" text-anchor="middle" font-size="12">0.102</text>
<text transform="translate(32.8,190) rotate(-90)" text-anchor="middle" font-size="12">0.204</text>
<text transform="translate(32.8,270.25) rotate(-90)" text-anchor="middle" font-size="12">0.306</text>
<text transform="translate(32.8,350.5) rotate(-90)" text-anchor="middle" font-size="12">0.408</text>
<text x="102" y="384.9" text-anchor="middle" font-size="12">0.5</text>
<text x="169.75" y="384.9" text-anchor="middle" font-size="12">1</text>
<text x="237.5" y="384.9" text-anchor="middle" font-size="12">1.5</text>
<text x="305.25" y="384.9" text-anchor="middle" font-size="12">2</text>
<text x="198.8" y="404.7" text-anchor="middle" font-size="14.7">Log Odds Ratio</text>
<text x="190.5" y="10.5" text-anchor="middle" font-size="14.5" font-weight="bold">Standard Error</text>
<text transform="translate(11.1,183.7) rotate(-90)" text-anchor="middle" font-size="14.7">Standard Error</text></g>
</g>
<g transform="translate(353.7,0)">
<clipPath id="c2"><rect x="50.0" y="17.0" width="281" height="346.5"/></clipPath>
<rect x="50.0" y="17.0" width="281" height="346.5" fill="#d6d7d9"/>
<g clip-path="url(#c2)">
<line x1="50.0" x2="331" y1="29.5" y2="29.5" stroke="#fff" stroke-width="1"/>
<line x1="50.0" x2="331" y1="109.75" y2="109.75" stroke="#fff" stroke-width="1"/>
<line x1="50.0" x2="331" y1="190" y2="190" stroke="#fff" stroke-width="1"/>
<line x1="50.0" x2="331" y1="270.25" y2="270.25" stroke="#fff" stroke-width="1"/>
<line x1="50.0" x2="331" y1="350.5" y2="350.5" stroke="#fff" stroke-width="1"/>
<path d="M190.48,29.5 L190.18,29.5 L189.88,29.51 L189.59,29.52 L189.29,29.54 L188.99,29.56 L188.69,29.59 L188.39,29.62 L188.09,29.66 L187.79,29.7 L187.49,29.74 L187.19,29.8 L186.9,29.85 L186.6,29.91 L186.3,29.98 L186,30.05 L185.7,30.12 L185.4,30.21 L185.1,30.29 L184.8,30.38 L184.51,30.48 L184.21,30.58 L183.91,30.68 L183.61,30.79 L183.31,30.91 L183.01,31.03 L182.71,31.15 L182.41,31.28 L182.12,31.41 L181.82,31.55 L181.52,31.7 L181.22,31.85 L180.92,32 L180.62,32.16 L180.32,32.32 L180.02,32.49 L179.73,32.66 L179.43,32.84 L179.13,33.02 L178.83,33.21 L178.53,33.4 L178.23,33.6 L177.93,33.81 L177.63,34.01 L177.34,34.22 L177.04,34.44 L176.74,34.66 L176.44,34.89 L176.14,35.12 L175.84,35.36 L175.54,35.6 L175.24,35.85 L174.95,36.1 L174.65,36.36 L174.35,36.62 L174.05,36.88 L173.75,37.15 L173.45,37.43 L173.15,37.71 L172.85,38 L172.55,38.29 L172.26,38.58 L171.96,38.88 L171.66,39.19 L171.36,39.5 L171.06,39.81 L170.76,40.13 L170.46,40.46 L170.16,40.79 L169.87,41.12 L169.57,41.46 L169.27,41.8 L168.97,42.15 L168.67,42.51 L168.37,42.86 L168.07,43.23 L167.77,43.6 L167.48,43.97 L167.18,44.35 L166.88,44.73 L166.58,45.12 L166.28,45.51 L165.98,45.91 L165.68,46.31 L165.38,46.72 L165.09,47.13 L164.79,47.55 L164.49,47.97 L164.19,48.4 L163.89,48.83 L163.59,49.27 L163.29,49.71 L162.99,50.16 L162.7,50.61 L162.4,51.06 L162.1,51.53 L161.8,51.99 L161.5,52.46 L161.2,52.94 L160.9,53.42 L160.6,53.91 L160.3,54.4 L160.01,54.89 L159.71,55.39 L159.41,55.9 L159.11,56.41 L158.81,56.92 L158.51,57.44 L158.21,57.97 L157.91,58.5 L157.62,59.03 L157.32,59.57 L157.02,60.11 L156.72,60.66 L156.42,61.22 L156.12,61.78 L155.82,62.34 L155.52,62.91 L155.23,63.48 L154.93,64.06 L154.63,64.64 L154.33,65.23 L154.03,65.83 L153.73,66.42 L153.43,67.03 L153.13,67.63 L152.84,68.25 L152.54,68.86 L152.24,69.49 L151.94,70.11 L151.64,70.75 L151.34,71.38 L151.04,72.02 L150.74,72.67 L150.45,73.32 L150.15,73.98 L149.85,74.64 L149.55,75.31 L149.25,75.98 L148.95,76.65 L148.65,77.34 L148.35,78.02 L148.06,78.71 L147.76,79.41 L147.46,80.11 L147.16,80.81 L146.86,81.52 L146.56,82.24 L146.26,82.96 L145.96,83.68 L145.66,84.41 L145.37,85.15 L145.07,85.89 L144.77,86.63 L144.47,87.38 L144.17,88.13 L143.87,88.89 L143.57,89.66 L143.27,90.43 L142.98,91.2 L142.68,91.98 L142.38,92.76 L142.08,93.55 L141.78,94.34 L141.48,95.14 L141.18,95.94 L140.88,96.75 L140.59,97.56 L140.29,98.38 L139.99,99.2 L139.69,100.03 L139.39,100.86 L139.09,101.7 L138.79,102.54 L138.49,103.39 L138.2,104.24 L137.9,105.1 L137.6,105.96 L137.3,106.83 L137,107.7 L136.7,108.57 L136.4,109.46 L136.1,110.34 L135.81,111.23 L135.51,112.13 L135.21,113.03 L134.91,113.93 L134.61,114.84 L134.31,115.76 L134.01,116.68 L133.71,117.6 L133.41,118.53 L133.12,119.47 L132.82,120.41 L132.52,121.35 L132.22,122.3 L131.92,123.26 L131.62,124.22 L131.32,125.18 L131.02,126.15 L130.73,127.12 L130.43,128.1 L130.13,129.08 L129.83,130.07 L129.53,131.07 L129.23,132.06 L128.93,133.07 L128.63,134.08 L128.34,135.09 L128.04,136.11 L127.74,137.13 L127.44,138.16 L127.14,139.19 L126.84,140.23 L126.54,141.27 L126.24,142.31 L125.95,143.37 L125.65,144.42 L125.35,145.49 L125.05,146.55 L124.75,147.62 L124.45,148.7 L124.15,149.78 L123.85,150.87 L123.56,151.96 L123.26,153.05 L122.96,154.15 L122.66,155.26 L122.36,156.37 L122.06,157.49 L121.76,158.61 L121.46,159.73 L121.17,160.86 L120.87,162 L120.57,163.14 L120.27,164.28 L119.97,165.43 L119.67,166.58 L119.37,167.74 L119.07,168.91 L118.77,170.08 L118.48,171.25 L118.18,172.43 L117.88,173.61 L117.58,174.8 L117.28,175.99 L116.98,177.19 L116.68,178.4 L116.38,179.6 L116.09,180.82 L115.79,182.04 L115.49,183.26 L115.19,184.49 L114.89,185.72 L114.59,186.96 L114.29,188.2 L113.99,189.44 L113.7,190.7 L113.4,191.95 L113.1,193.22 L112.8,194.48 L112.5,195.75 L112.2,197.03 L111.9,198.31 L111.6,199.6 L111.31,200.89 L111.01,202.18 L110.71,203.49 L110.41,204.79 L110.11,206.1 L109.81,207.42 L109.51,208.74 L109.21,210.06 L108.92,211.39 L108.62,212.73 L108.32,214.07 L108.02,215.41 L107.72,216.76 L107.42,218.12 L107.12,219.48 L106.82,220.84 L106.53,222.21 L106.23,223.58 L105.93,224.96 L105.63,226.35 L105.33,227.73 L105.03,229.13 L104.73,230.53 L104.43,231.93 L104.13,233.34 L103.84,234.75 L103.54,236.17 L103.24,237.59 L102.94,239.02 L102.64,240.45 L102.34,241.89 L102.04,243.33 L101.74,244.78 L101.45,246.23 L101.15,247.69 L100.85,249.15 L100.55,250.62 L100.25,252.09 L99.95,253.57 L99.65,255.05 L99.35,256.53 L99.06,258.02 L98.76,259.52 L98.46,261.02 L98.16,262.53 L97.86,264.04 L97.56,265.55 L97.26,267.07 L96.96,268.6 L96.67,270.13 L96.37,271.66 L96.07,273.2 L95.77,274.75 L95.47,276.3 L95.17,277.85 L94.87,279.41 L94.57,280.98 L94.28,282.55 L93.98,284.12 L93.68,285.7 L93.38,287.28 L93.08,288.87 L92.78,290.47 L92.48,292.07 L92.18,293.67 L91.88,295.28 L91.59,296.89 L91.29,298.51 L90.99,300.13 L90.69,301.76 L90.39,303.39 L90.09,305.03 L89.79,306.67 L89.49,308.32 L89.2,309.97 L88.9,311.63 L88.6,313.29 L88.3,314.96 L88,316.63 L87.7,318.31 L87.4,319.99 L87.1,321.67 L86.81,323.37 L86.51,325.06 L86.21,326.76 L85.91,328.47 L85.61,330.18 L85.31,331.9 L85.01,333.62 L84.71,335.34 L84.42,337.07 L84.12,338.81 L83.82,340.55 L83.52,342.29 L83.22,344.04 L82.92,345.8 L82.62,347.56 L82.32,349.32 L82.03,351.09 L81.73,352.86 L81.43,354.64 L81.13,356.43 L80.83,358.22 L80.53,360.01 L80.23,361.81 L79.93,363.61 L79.64,365.42 L79.34,367.23 L79.04,369.05 L78.74,370.88 L78.44,372.7 L78.14,374.54 L77.84,376.37 L77.54,378.22 L77.24,380.06 L76.95,381.92 L76.65,383.77 L76.35,385.64 L76.05,387.5 L75.75,389.38 L75.45,391.25 L75.15,393.13 L74.85,395.02 L74.56,396.91 L74.26,398.81 L73.96,400.71 L73.66,402.62 L73.36,404.53 L73.06,406.44 L72.76,408.36 L72.46,410.29 L72.17,412.22 L71.87,414.15 L71.57,416.09 L71.27,418.04 L70.97,419.99 L309.99,419.99 L309.69,418.04 L309.39,416.09 L309.1,414.15 L308.8,412.22 L308.5,410.29 L308.2,408.36 L307.9,406.44 L307.6,404.53 L307.3,402.62 L307,400.71 L306.71,398.81 L306.41,396.91 L306.11,395.02 L305.81,393.13 L305.51,391.25 L305.21,389.38 L304.91,387.5 L304.61,385.64 L304.32,383.77 L304.02,381.92 L303.72,380.06 L303.42,378.22 L303.12,376.37 L302.82,374.54 L302.52,372.7 L302.22,370.88 L301.93,369.05 L301.63,367.23 L301.33,365.42 L301.03,363.61 L300.73,361.81 L300.43,360.01 L300.13,358.22 L299.83,356.43 L299.54,354.64 L299.24,352.86 L298.94,351.09 L298.64,349.32 L298.34,347.56 L298.04,345.8 L297.74,344.04 L297.44,342.29 L297.15,340.55 L296.85,338.81 L296.55,337.07 L296.25,335.34 L295.95,333.62 L295.65,331.9 L295.35,330.18 L295.05,328.47 L294.75,326.76 L294.46,325.06 L294.16,323.37 L293.86,321.67 L293.56,319.99 L293.26,318.31 L292.96,316.63 L292.66,314.96 L292.36,313.29 L292.07,311.63 L291.77,309.97 L291.47,308.32 L291.17,306.67 L290.87,305.03 L290.57,303.39 L290.27,301.76 L289.97,300.13 L289.68,298.51 L289.38,296.89 L289.08,295.28 L288.78,293.67 L288.48,292.07 L288.18,290.47 L287.88,288.87 L287.58,287.28 L287.29,285.7 L286.99,284.12 L286.69,282.55 L286.39,280.98 L286.09,279.41 L285.79,277.85 L285.49,276.3 L285.19,274.75 L284.9,273.2 L284.6,271.66 L284.3,270.13 L284,268.6 L283.7,267.07 L283.4,265.55 L283.1,264.04 L282.8,262.53 L282.5,261.02 L282.21,259.52 L281.91,258.02 L281.61,256.53 L281.31,255.05 L281.01,253.57 L280.71,252.09 L280.41,250.62 L280.11,249.15 L279.82,247.69 L279.52,246.23 L279.22,244.78 L278.92,243.33 L278.62,241.89 L278.32,240.45 L278.02,239.02 L277.72,237.59 L277.43,236.17 L277.13,234.75 L276.83,233.34 L276.53,231.93 L276.23,230.53 L275.93,229.13 L275.63,227.73 L275.33,226.35 L275.04,224.96 L274.74,223.58 L274.44,222.21 L274.14,220.84 L273.84,219.48 L273.54,218.12 L273.24,216.76 L272.94,215.41 L272.65,214.07 L272.35,212.73 L272.05,211.39 L271.75,210.06 L271.45,208.74 L271.15,207.42 L270.85,206.1 L270.55,204.79 L270.26,203.49 L269.96,202.18 L269.66,200.89 L269.36,199.6 L269.06,198.31 L268.76,197.03 L268.46,195.75 L268.16,194.48 L267.86,193.22 L267.57,191.95 L267.27,190.7 L266.97,189.44 L266.67,188.2 L266.37,186.96 L266.07,185.72 L265.77,184.49 L265.47,183.26 L265.18,182.04 L264.88,180.82 L264.58,179.6 L264.28,178.4 L263.98,177.19 L263.68,175.99 L263.38,174.8 L263.08,173.61 L262.79,172.43 L262.49,171.25 L262.19,170.08 L261.89,168.91 L261.59,167.74 L261.29,166.58 L260.99,165.43 L260.69,164.28 L260.4,163.14 L260.1,162 L259.8,160.86 L259.5,159.73 L259.2,158.61 L258.9,157.49 L258.6,156.37 L258.3,155.26 L258.01,154.15 L257.71,153.05 L257.41,151.96 L257.11,150.87 L256.81,149.78 L256.51,148.7 L256.21,147.62 L255.91,146.55 L255.61,145.49 L255.32,144.42 L255.02,143.37 L254.72,142.31 L254.42,141.27 L254.12,140.23 L253.82,139.19 L253.52,138.16 L253.22,137.13 L252.93,136.11 L252.63,135.09 L252.33,134.08 L252.03,133.07 L251.73,132.06 L251.43,131.07 L251.13,130.07 L250.83,129.08 L250.54,128.1 L250.24,127.12 L249.94,126.15 L249.64,125.18 L249.34,124.22 L249.04,123.26 L248.74,122.3 L248.44,121.35 L248.15,120.41 L247.85,119.47 L247.55,118.53 L247.25,117.6 L246.95,116.68 L246.65,115.76 L246.35,114.84 L246.05,113.93 L245.76,113.03 L245.46,112.13 L245.16,111.23 L244.86,110.34 L244.56,109.46 L244.26,108.57 L243.96,107.7 L243.66,106.83 L243.37,105.96 L243.07,105.1 L242.77,104.24 L242.47,103.39 L242.17,102.54 L241.87,101.7 L241.57,100.86 L241.27,100.03 L240.97,99.2 L240.68,98.38 L240.38,97.56 L240.08,96.75 L239.78,95.94 L239.48,95.14 L239.18,94.34 L238.88,93.55 L238.58,92.76 L238.29,91.98 L237.99,91.2 L237.69,90.43 L237.39,89.66 L237.09,88.89 L236.79,88.13 L236.49,87.38 L236.19,86.63 L235.9,85.89 L235.6,85.15 L235.3,84.41 L235,83.68 L234.7,82.96 L234.4,82.24 L234.1,81.52 L233.8,80.81 L233.51,80.11 L233.21,79.41 L232.91,78.71 L232.61,78.02 L232.31,77.34 L232.01,76.65 L231.71,75.98 L231.41,75.31 L231.12,74.64 L230.82,73.98 L230.52,73.32 L230.22,72.67 L229.92,72.02 L229.62,71.38 L229.32,70.75 L229.02,70.11 L228.73,69.49 L228.43,68.86 L228.13,68.25 L227.83,67.63 L227.53,67.03 L227.23,66.42 L226.93,65.83 L226.63,65.23 L226.33,64.64 L226.04,64.06 L225.74,63.48 L225.44,62.91 L225.14,62.34 L224.84,61.78 L224.54,61.22 L224.24,60.66 L223.94,60.11 L223.65,59.57 L223.35,59.03 L223.05,58.5 L222.75,57.97 L222.45,57.44 L222.15,56.92 L221.85,56.41 L221.55,55.9 L221.26,55.39 L220.96,54.89 L220.66,54.4 L220.36,53.91 L220.06,53.42 L219.76,52.94 L219.46,52.46 L219.16,51.99 L218.87,51.53 L218.57,51.06 L218.27,50.61 L217.97,50.16 L217.67,49.71 L217.37,49.27 L217.07,48.83 L216.77,48.4 L216.48,47.97 L216.18,47.55 L215.88,47.13 L215.58,46.72 L215.28,46.31 L214.98,45.91 L214.68,45.51 L214.38,45.12 L214.08,44.73 L213.79,44.35 L213.49,43.97 L213.19,43.6 L212.89,43.23 L212.59,42.86 L212.29,42.51 L211.99,42.15 L211.69,41.8 L211.4,41.46 L211.1,41.12 L210.8,40.79 L210.5,40.46 L210.2,40.13 L209.9,39.81 L209.6,39.5 L209.3,39.19 L209.01,38.88 L208.71,38.58 L208.41,38.29 L208.11,38 L207.81,37.71 L207.51,37.43 L207.21,37.15 L206.91,36.88 L206.62,36.62 L206.32,36.36 L206.02,36.1 L205.72,35.85 L205.42,35.6 L205.12,35.36 L204.82,35.12 L204.52,34.89 L204.23,34.66 L203.93,34.44 L203.63,34.22 L203.33,34.01 L203.03,33.81 L202.73,33.6 L202.43,33.4 L202.13,33.21 L201.84,33.02 L201.54,32.84 L201.24,32.66 L200.94,32.49 L200.64,32.32 L200.34,32.16 L200.04,32 L199.74,31.85 L199.44,31.7 L199.15,31.55 L198.85,31.41 L198.55,31.28 L198.25,31.15 L197.95,31.03 L197.65,30.91 L197.35,30.79 L197.05,30.68 L196.76,30.58 L196.46,30.48 L196.16,30.38 L195.86,30.29 L195.56,30.21 L195.26,30.12 L194.96,30.05 L194.66,29.98 L194.37,29.91 L194.07,29.85 L193.77,29.8 L193.47,29.74 L193.17,29.7 L192.87,29.66 L192.57,29.62 L192.27,29.59 L191.98,29.56 L191.68,29.54 L191.38,29.52 L191.08,29.51 L190.78,29.5 L190.48,29.5Z" fill="#fff"/>
<path d="M190.48,29.5 L190.18,29.5 L189.88,29.51 L189.59,29.52 L189.29,29.54 L188.99,29.56 L188.69,29.59 L188.39,29.62 L188.09,29.66 L187.79,29.7 L187.49,29.74 L187.19,29.8 L186.9,29.85 L186.6,29.91 L186.3,29.98 L186,30.05 L185.7,30.12 L185.4,30.21 L185.1,30.29 L184.8,30.38 L184.51,30.48 L184.21,30.58 L183.91,30.68 L183.61,30.79 L183.31,30.91 L183.01,31.03 L182.71,31.15 L182.41,31.28 L182.12,31.41 L181.82,31.55 L181.52,31.7 L181.22,31.85 L180.92,32 L180.62,32.16 L180.32,32.32 L180.02,32.49 L179.73,32.66 L179.43,32.84 L179.13,33.02 L178.83,33.21 L178.53,33.4 L178.23,33.6 L177.93,33.81 L177.63,34.01 L177.34,34.22 L177.04,34.44 L176.74,34.66 L176.44,34.89 L176.14,35.12 L175.84,35.36 L175.54,35.6 L175.24,35.85 L174.95,36.1 L174.65,36.36 L174.35,36.62 L174.05,36.88 L173.75,37.15 L173.45,37.43 L173.15,37.71 L172.85,38 L172.55,38.29 L172.26,38.58 L171.96,38.88 L171.66,39.19 L171.36,39.5 L171.06,39.81 L170.76,40.13 L170.46,40.46 L170.16,40.79 L169.87,41.12 L169.57,41.46 L169.27,41.8 L168.97,42.15 L168.67,42.51 L168.37,42.86 L168.07,43.23 L167.77,43.6 L167.48,43.97 L167.18,44.35 L166.88,44.73 L166.58,45.12 L166.28,45.51 L165.98,45.91 L165.68,46.31 L165.38,46.72 L165.09,47.13 L164.79,47.55 L164.49,47.97 L164.19,48.4 L163.89,48.83 L163.59,49.27 L163.29,49.71 L162.99,50.16 L162.7,50.61 L162.4,51.06 L162.1,51.53 L161.8,51.99 L161.5,52.46 L161.2,52.94 L160.9,53.42 L160.6,53.91 L160.3,54.4 L160.01,54.89 L159.71,55.39 L159.41,55.9 L159.11,56.41 L158.81,56.92 L158.51,57.44 L158.21,57.97 L157.91,58.5 L157.62,59.03 L157.32,59.57 L157.02,60.11 L156.72,60.66 L156.42,61.22 L156.12,61.78 L155.82,62.34 L155.52,62.91 L155.23,63.48 L154.93,64.06 L154.63,64.64 L154.33,65.23 L154.03,65.83 L153.73,66.42 L153.43,67.03 L153.13,67.63 L152.84,68.25 L152.54,68.86 L152.24,69.49 L151.94,70.11 L151.64,70.75 L151.34,71.38 L151.04,72.02 L150.74,72.67 L150.45,73.32 L150.15,73.98 L149.85,74.64 L149.55,75.31 L149.25,75.98 L148.95,76.65 L148.65,77.34 L148.35,78.02 L148.06,78.71 L147.76,79.41 L147.46,80.11 L147.16,80.81 L146.86,81.52 L146.56,82.24 L146.26,82.96 L145.96,83.68 L145.66,84.41 L145.37,85.15 L145.07,85.89 L144.77,86.63 L144.47,87.38 L144.17,88.13 L143.87,88.89 L143.57,89.66 L143.27,90.43 L142.98,91.2 L142.68,91.98 L142.38,92.76 L142.08,93.55 L141.78,94.34 L141.48,95.14 L141.18,95.94 L140.88,96.75 L140.59,97.56 L140.29,98.38 L139.99,99.2 L139.69,100.03 L139.39,100.86 L139.09,101.7 L138.79,102.54 L138.49,103.39 L138.2,104.24 L137.9,105.1 L137.6,105.96 L137.3,106.83 L137,107.7 L136.7,108.57 L136.4,109.46 L136.1,110.34 L135.81,111.23 L135.51,112.13 L135.21,113.03 L134.91,113.93 L134.61,114.84 L134.31,115.76 L134.01,116.68 L133.71,117.6 L133.41,118.53 L133.12,119.47 L132.82,120.41 L132.52,121.35 L132.22,122.3 L131.92,123.26 L131.62,124.22 L131.32,125.18 L131.02,126.15 L130.73,127.12 L130.43,128.1 L130.13,129.08 L129.83,130.07 L129.53,131.07 L129.23,132.06 L128.93,133.07 L128.63,134.08 L128.34,135.09 L128.04,136.11 L127.74,137.13 L127.44,138.16 L127.14,139.19 L126.84,140.23 L126.54,141.27 L126.24,142.31 L125.95,143.37 L125.65,144.42 L125.35,145.49 L125.05,146.55 L124.75,147.62 L124.45,148.7 L124.15,149.78 L123.85,150.87 L123.56,151.96 L123.26,153.05 L122.96,154.15 L122.66,155.26 L122.36,156.37 L122.06,157.49 L121.76,158.61 L121.46,159.73 L121.17,160.86 L120.87,162 L120.57,163.14 L120.27,164.28 L119.97,165.43 L119.67,166.58 L119.37,167.74 L119.07,168.91 L118.77,170.08 L118.48,171.25 L118.18,172.43 L117.88,173.61 L117.58,174.8 L117.28,175.99 L116.98,177.19 L116.68,178.4 L116.38,179.6 L116.09,180.82 L115.79,182.04 L115.49,183.26 L115.19,184.49 L114.89,185.72 L114.59,186.96 L114.29,188.2 L113.99,189.44 L113.7,190.7 L113.4,191.95 L113.1,193.22 L112.8,194.48 L112.5,195.75 L112.2,197.03 L111.9,198.31 L111.6,199.6 L111.31,200.89 L111.01,202.18 L110.71,203.49 L110.41,204.79 L110.11,206.1 L109.81,207.42 L109.51,208.74 L109.21,210.06 L108.92,211.39 L108.62,212.73 L108.32,214.07 L108.02,215.41 L107.72,216.76 L107.42,218.12 L107.12,219.48 L106.82,220.84 L106.53,222.21 L106.23,223.58 L105.93,224.96 L105.63,226.35 L105.33,227.73 L105.03,229.13 L104.73,230.53 L104.43,231.93 L104.13,233.34 L103.84,234.75 L103.54,236.17 L103.24,237.59 L102.94,239.02 L102.64,240.45 L102.34,241.89 L102.04,243.33 L101.74,244.78 L101.45,246.23 L101.15,247.69 L100.85,249.15 L100.55,250.62 L100.25,252.09 L99.95,253.57 L99.65,255.05 L99.35,256.53 L99.06,258.02 L98.76,259.52 L98.46,261.02 L98.16,262.53 L97.86,264.04 L97.56,265.55 L97.26,267.07 L96.96,268.6 L96.67,270.13 L96.37,271.66 L96.07,273.2 L95.77,274.75 L95.47,276.3 L95.17,277.85 L94.87,279.41 L94.57,280.98 L94.28,282.55 L93.98,284.12 L93.68,285.7 L93.38,287.28 L93.08,288.87 L92.78,290.47 L92.48,292.07 L92.18,293.67 L91.88,295.28 L91.59,296.89 L91.29,298.51 L90.99,300.13 L90.69,301.76 L90.39,303.39 L90.09,305.03 L89.79,306.67 L89.49,308.32 L89.2,309.97 L88.9,311.63 L88.6,313.29 L88.3,314.96 L88,316.63 L87.7,318.31 L87.4,319.99 L87.1,321.67 L86.81,323.37 L86.51,325.06 L86.21,326.76 L85.91,328.47 L85.61,330.18 L85.31,331.9 L85.01,333.62 L84.71,335.34 L84.42,337.07 L84.12,338.81 L83.82,340.55 L83.52,342.29 L83.22,344.04 L82.92,345.8 L82.62,347.56 L82.32,349.32 L82.03,351.09 L81.73,352.86 L81.43,354.64 L81.13,356.43 L80.83,358.22 L80.53,360.01 L80.23,361.81 L79.93,363.61 L79.64,365.42 L79.34,367.23 L79.04,369.05 L78.74,370.88 L78.44,372.7 L78.14,374.54 L77.84,376.37 L77.54,378.22 L77.24,380.06 L76.95,381.92 L76.65,383.77 L76.35,385.64 L76.05,387.5 L75.75,389.38 L75.45,391.25 L75.15,393.13 L74.85,395.02 L74.56,396.91 L74.26,398.81 L73.96,400.71 L73.66,402.62 L73.36,404.53 L73.06,406.44 L72.76,408.36 L72.46,410.29 L72.17,412.22 L71.87,414.15 L71.57,416.09 L71.27,418.04 L70.97,419.99" fill="none" stroke="#231f20" stroke-width="0.8" stroke-dasharray="1 2.9"/>
<path d="M190.48,29.5 L190.78,29.5 L191.08,29.51 L191.38,29.52 L191.68,29.54 L191.98,29.56 L192.27,29.59 L192.57,29.62 L192.87,29.66 L193.17,29.7 L193.47,29.74 L193.77,29.8 L194.07,29.85 L194.37,29.91 L194.66,29.98 L194.96,30.05 L195.26,30.12 L195.56,30.21 L195.86,30.29 L196.16,30.38 L196.46,30.48 L196.76,30.58 L197.05,30.68 L197.35,30.79 L197.65,30.91 L197.95,31.03 L198.25,31.15 L198.55,31.28 L198.85,31.41 L199.15,31.55 L199.44,31.7 L199.74,31.85 L200.04,32 L200.34,32.16 L200.64,32.32 L200.94,32.49 L201.24,32.66 L201.54,32.84 L201.84,33.02 L202.13,33.21 L202.43,33.4 L202.73,33.6 L203.03,33.81 L203.33,34.01 L203.63,34.22 L203.93,34.44 L204.23,34.66 L204.52,34.89 L204.82,35.12 L205.12,35.36 L205.42,35.6 L205.72,35.85 L206.02,36.1 L206.32,36.36 L206.62,36.62 L206.91,36.88 L207.21,37.15 L207.51,37.43 L207.81,37.71 L208.11,38 L208.41,38.29 L208.71,38.58 L209.01,38.88 L209.3,39.19 L209.6,39.5 L209.9,39.81 L210.2,40.13 L210.5,40.46 L210.8,40.79 L211.1,41.12 L211.4,41.46 L211.69,41.8 L211.99,42.15 L212.29,42.51 L212.59,42.86 L212.89,43.23 L213.19,43.6 L213.49,43.97 L213.79,44.35 L214.08,44.73 L214.38,45.12 L214.68,45.51 L214.98,45.91 L215.28,46.31 L215.58,46.72 L215.88,47.13 L216.18,47.55 L216.48,47.97 L216.77,48.4 L217.07,48.83 L217.37,49.27 L217.67,49.71 L217.97,50.16 L218.27,50.61 L218.57,51.06 L218.87,51.53 L219.16,51.99 L219.46,52.46 L219.76,52.94 L220.06,53.42 L220.36,53.91 L220.66,54.4 L220.96,54.89 L221.26,55.39 L221.55,55.9 L221.85,56.41 L222.15,56.92 L222.45,57.44 L222.75,57.97 L223.05,58.5 L223.35,59.03 L223.65,59.57 L223.94,60.11 L224.24,60.66 L224.54,61.22 L224.84,61.78 L225.14,62.34 L225.44,62.91 L225.74,63.48 L226.04,64.06 L226.33,64.64 L226.63,65.23 L226.93,65.83 L227.23,66.42 L227.53,67.03 L227.83,67.63 L228.13,68.25 L228.43,68.86 L228.73,69.49 L229.02,70.11 L229.32,70.75 L229.62,71.38 L229.92,72.02 L230.22,72.67 L230.52,73.32 L230.82,73.98 L231.12,74.64 L231.41,75.31 L231.71,75.98 L232.01,76.65 L232.31,77.34 L232.61,78.02 L232.91,78.71 L233.21,79.41 L233.51,80.11 L233.8,80.81 L234.1,81.52 L234.4,82.24 L234.7,82.96 L235,83.68 L235.3,84.41 L235.6,85.15 L235.9,85.89 L236.19,86.63 L236.49,87.38 L236.79,88.13 L237.09,88.89 L237.39,89.66 L237.69,90.43 L237.99,91.2 L238.29,91.98 L238.58,92.76 L238.88,93.55 L239.18,94.34 L239.48,95.14 L239.78,95.94 L240.08,96.75 L240.38,97.56 L240.68,98.38 L240.97,99.2 L241.27,100.03 L241.57,100.86 L241.87,101.7 L242.17,102.54 L242.47,103.39 L242.77,104.24 L243.07,105.1 L243.37,105.96 L243.66,106.83 L243.96,107.7 L244.26,108.57 L244.56,109.46 L244.86,110.34 L245.16,111.23 L245.46,112.13 L245.76,113.03 L246.05,113.93 L246.35,114.84 L246.65,115.76 L246.95,116.68 L247.25,117.6 L247.55,118.53 L247.85,119.47 L248.15,120.41 L248.44,121.35 L248.74,122.3 L249.04,123.26 L249.34,124.22 L249.64,125.18 L249.94,126.15 L250.24,127.12 L250.54,128.1 L250.83,129.08 L251.13,130.07 L251.43,131.07 L251.73,132.06 L252.03,133.07 L252.33,134.08 L252.63,135.09 L252.93,136.11 L253.22,137.13 L253.52,138.16 L253.82,139.19 L254.12,140.23 L254.42,141.27 L254.72,142.31 L255.02,143.37 L255.32,144.42 L255.61,145.49 L255.91,146.55 L256.21,147.62 L256.51,148.7 L256.81,149.78 L257.11,150.87 L257.41,151.96 L257.71,153.05 L258.01,154.15 L258.3,155.26 L258.6,156.37 L258.9,157.49 L259.2,158.61 L259.5,159.73 L259.8,160.86 L260.1,162 L260.4,163.14 L260.69,164.28 L260.99,165.43 L261.29,166.58 L261.59,167.74 L261.89,168.91 L262.19,170.08 L262.49,171.25 L262.79,172.43 L263.08,173.61 L263.38,174.8 L263.68,175.99 L263.98,177.19 L264.28,178.4 L264.58,179.6 L264.88,180.82 L265.18,182.04 L265.47,183.26 L265.77,184.49 L266.07,185.72 L266.37,186.96 L266.67,188.2 L266.97,189.44 L267.27,190.7 L267.57,191.95 L267.86,193.22 L268.16,194.48 L268.46,195.75 L268.76,197.03 L269.06,198.31 L269.36,199.6 L269.66,200.89 L269.96,202.18 L270.26,203.49 L270.55,204.79 L270.85,206.1 L271.15,207.42 L271.45,208.74 L271.75,210.06 L272.05,211.39 L272.35,212.73 L272.65,214.07 L272.94,215.41 L273.24,216.76 L273.54,218.12 L273.84,219.48 L274.14,220.84 L274.44,222.21 L274.74,223.58 L275.04,224.96 L275.33,226.35 L275.63,227.73 L275.93,229.13 L276.23,230.53 L276.53,231.93 L276.83,233.34 L277.13,234.75 L277.43,236.17 L277.72,237.59 L278.02,239.02 L278.32,240.45 L278.62,241.89 L278.92,243.33 L279.22,244.78 L279.52,246.23 L279.82,247.69 L280.11,249.15 L280.41,250.62 L280.71,252.09 L281.01,253.57 L281.31,255.05 L281.61,256.53 L281.91,258.02 L282.21,259.52 L282.5,261.02 L282.8,262.53 L283.1,264.04 L283.4,265.55 L283.7,267.07 L284,268.6 L284.3,270.13 L284.6,271.66 L284.9,273.2 L285.19,274.75 L285.49,276.3 L285.79,277.85 L286.09,279.41 L286.39,280.98 L286.69,282.55 L286.99,284.12 L287.29,285.7 L287.58,287.28 L287.88,288.87 L288.18,290.47 L288.48,292.07 L288.78,293.67 L289.08,295.28 L289.38,296.89 L289.68,298.51 L289.97,300.13 L290.27,301.76 L290.57,303.39 L290.87,305.03 L291.17,306.67 L291.47,308.32 L291.77,309.97 L292.07,311.63 L292.36,313.29 L292.66,314.96 L292.96,316.63 L293.26,318.31 L293.56,319.99 L293.86,321.67 L294.16,323.37 L294.46,325.06 L294.75,326.76 L295.05,328.47 L295.35,330.18 L295.65,331.9 L295.95,333.62 L296.25,335.34 L296.55,337.07 L296.85,338.81 L297.15,340.55 L297.44,342.29 L297.74,344.04 L298.04,345.8 L298.34,347.56 L298.64,349.32 L298.94,351.09 L299.24,352.86 L299.54,354.64 L299.83,356.43 L300.13,358.22 L300.43,360.01 L300.73,361.81 L301.03,363.61 L301.33,365.42 L301.63,367.23 L301.93,369.05 L302.22,370.88 L302.52,372.7 L302.82,374.54 L303.12,376.37 L303.42,378.22 L303.72,380.06 L304.02,381.92 L304.32,383.77 L304.61,385.64 L304.91,387.5 L305.21,389.38 L305.51,391.25 L305.81,393.13 L306.11,395.02 L306.41,396.91 L306.71,398.81 L307,400.71 L307.3,402.62 L307.6,404.53 L307.9,406.44 L308.2,408.36 L308.5,410.29 L308.8,412.22 L309.1,414.15 L309.39,416.09 L309.69,418.04 L309.99,419.99" fill="none" stroke="#231f20" stroke-width="0.8" stroke-dasharray="1 2.9"/>
</g>
<line x1="190.3" x2="190.3" y1="29.5" y2="363.5" stroke="#2b2829" stroke-width="1"/>
<circle cx="195.36" cy="111.58" r="3.2" fill="#231f20"/>
<circle cx="206" cy="126.6" r="3.2" fill="#231f20"/>
<circle cx="180.79" cy="169.45" r="3.2" fill="#231f20"/>
<circle cx="157.42" cy="193.36" r="3.2" fill="#231f20"/>
<circle cx="183.65" cy="200.17" r="3.2" fill="#231f20"/>
<circle cx="202.41" cy="212.43" r="3.2" fill="#231f20"/>
<circle cx="195.77" cy="217.09" r="3.2" fill="#231f20"/>
<circle cx="180.7" cy="259.69" r="3.2" fill="#231f20"/>
<circle cx="186.61" cy="299.23" r="3.2" fill="#231f20"/>
<circle cx="204.4" cy="350.5" r="3.2" fill="#231f20"/>
<path d="M49.65,16.5 V363.5 H331" fill="none" stroke="#454547" stroke-width="1.2" stroke-linejoin="round"/>
<line x1="42" x2="49" y1="29.5" y2="29.5" stroke="#454547" stroke-width="1"/>
<line x1="42" x2="49" y1="109.75" y2="109.75" stroke="#454547" stroke-width="1"/>
<line x1="42" x2="49" y1="190" y2="190" stroke="#454547" stroke-width="1"/>
<line x1="42" x2="49" y1="270.25" y2="270.25" stroke="#454547" stroke-width="1"/>
<line x1="42" x2="49" y1="350.5" y2="350.5" stroke="#454547" stroke-width="1"/>
<line x1="102" x2="102" y1="364" y2="371" stroke="#454547" stroke-width="1"/>
<line x1="169.75" x2="169.75" y1="364" y2="371" stroke="#454547" stroke-width="1"/>
<line x1="237.5" x2="237.5" y1="364" y2="371" stroke="#454547" stroke-width="1"/>
<line x1="305.25" x2="305.25" y1="364" y2="371" stroke="#454547" stroke-width="1"/>
<g filter="url(#gs)"><text transform="translate(32.8,29.5) rotate(-90)" text-anchor="middle" font-size="12">0</text>
<text transform="translate(32.8,109.75) rotate(-90)" text-anchor="middle" font-size="12">0.042</text>
<text transform="translate(32.8,190) rotate(-90)" text-anchor="middle" font-size="12">0.083</text>
<text transform="translate(32.8,270.25) rotate(-90)" text-anchor="middle" font-size="12">0.125</text>
<text transform="translate(32.8,350.5) rotate(-90)" text-anchor="middle" font-size="12">0.167</text>
<text x="102" y="384.9" text-anchor="middle" font-size="12">0.5</text>
<text x="169.75" y="384.9" text-anchor="middle" font-size="12">1</text>
<text x="237.5" y="384.9" text-anchor="middle" font-size="12">1.5</text>
<text x="305.25" y="384.9" text-anchor="middle" font-size="12">2</text>
<text x="198.8" y="404.7" text-anchor="middle" font-size="14.7">Log Odds Ratio</text>
<text x="190.5" y="10.5" text-anchor="middle" font-size="14.5" font-weight="bold">Sampling Variance</text>
<text transform="translate(11.1,183.7) rotate(-90)" text-anchor="middle" font-size="14.7">Variance</text></g>
</g>
<g transform="translate(0,436.5)">
<clipPath id="c3"><rect x="50.0" y="16.5" width="281" height="346.5"/></clipPath>
<rect x="50.0" y="16.5" width="281" height="346.5" fill="#d6d7d9"/>
<g clip-path="url(#c3)">
<line x1="50.0" x2="331" y1="29.5" y2="29.5" stroke="#fff" stroke-width="1.2"/>
<line x1="50.0" x2="331" y1="109.75" y2="109.75" stroke="#fff" stroke-width="1.2"/>
<line x1="50.0" x2="331" y1="190" y2="190" stroke="#fff" stroke-width="1.2"/>
<line x1="50.0" x2="331" y1="270.25" y2="270.25" stroke="#fff" stroke-width="1.2"/>
<line x1="50.0" x2="331" y1="350.5" y2="350.5" stroke="#fff" stroke-width="1.2"/>
<path d="M82.12,350.5 L82.27,350.06 L82.41,349.62 L82.56,349.18 L82.7,348.74 L82.85,348.29 L82.99,347.85 L83.14,347.4 L83.28,346.95 L83.43,346.5 L83.57,346.05 L83.72,345.6 L83.86,345.15 L84.01,344.7 L84.15,344.24 L84.3,343.79 L84.44,343.33 L84.59,342.87 L84.73,342.41 L84.87,341.95 L85.02,341.49 L85.16,341.02 L85.31,340.56 L85.45,340.09 L85.6,339.62 L85.74,339.16 L85.89,338.69 L86.03,338.21 L86.18,337.74 L86.32,337.27 L86.47,336.79 L86.61,336.32 L86.76,335.84 L86.9,335.36 L87.05,334.88 L87.19,334.4 L87.34,333.91 L87.48,333.43 L87.63,332.94 L87.77,332.45 L87.91,331.96 L88.06,331.47 L88.2,330.98 L88.35,330.49 L88.49,330 L88.64,329.5 L88.78,329 L88.93,328.5 L89.07,328 L89.22,327.5 L89.36,327 L89.51,326.49 L89.65,325.99 L89.8,325.48 L89.94,324.97 L90.09,324.46 L90.23,323.95 L90.38,323.44 L90.52,322.92 L90.66,322.41 L90.81,321.89 L90.95,321.37 L91.1,320.85 L91.24,320.33 L91.39,319.8 L91.53,319.28 L91.68,318.75 L91.82,318.22 L91.97,317.69 L92.11,317.16 L92.26,316.63 L92.4,316.09 L92.55,315.56 L92.69,315.02 L92.84,314.48 L92.98,313.94 L93.13,313.4 L93.27,312.85 L93.41,312.31 L93.56,311.76 L93.7,311.21 L93.85,310.66 L93.99,310.11 L94.14,309.55 L94.28,309 L94.43,308.44 L94.57,307.88 L94.72,307.32 L94.86,306.76 L95.01,306.2 L95.15,305.63 L95.3,305.06 L95.44,304.49 L95.59,303.92 L95.73,303.35 L95.88,302.77 L96.02,302.2 L96.16,301.62 L96.31,301.04 L96.45,300.46 L96.6,299.88 L96.74,299.29 L96.89,298.7 L97.03,298.11 L97.18,297.52 L97.32,296.93 L97.47,296.34 L97.61,295.74 L97.76,295.14 L97.9,294.54 L98.05,293.94 L98.19,293.34 L98.34,292.73 L98.48,292.12 L98.63,291.51 L98.77,290.9 L98.91,290.29 L99.06,289.68 L99.2,289.06 L99.35,288.44 L99.49,287.82 L99.64,287.19 L99.78,286.57 L99.93,285.94 L100.07,285.31 L100.22,284.68 L100.36,284.05 L100.51,283.41 L100.65,282.78 L100.8,282.14 L100.94,281.5 L101.09,280.85 L101.23,280.21 L101.38,279.56 L101.52,278.91 L101.66,278.26 L101.81,277.6 L101.95,276.95 L102.1,276.29 L102.24,275.63 L102.39,274.97 L102.53,274.3 L102.68,273.64 L102.82,272.97 L102.97,272.3 L103.11,271.62 L103.26,270.95 L103.4,270.27 L103.55,269.59 L103.69,268.91 L103.84,268.22 L103.98,267.53 L104.13,266.84 L104.27,266.15 L104.41,265.46 L104.56,264.76 L104.7,264.06 L104.85,263.36 L104.99,262.66 L105.14,261.95 L105.28,261.24 L105.43,260.53 L105.57,259.82 L105.72,259.1 L105.86,258.39 L106.01,257.67 L106.15,256.94 L106.3,256.22 L106.44,255.49 L106.59,254.76 L106.73,254.03 L106.88,253.29 L107.02,252.55 L107.17,251.81 L107.31,251.07 L107.45,250.32 L107.6,249.58 L107.74,248.82 L107.89,248.07 L108.03,247.31 L108.18,246.56 L108.32,245.79 L108.47,245.03 L108.61,244.26 L108.76,243.49 L108.9,242.72 L109.05,241.95 L109.19,241.17 L109.34,240.39 L109.48,239.6 L109.63,238.82 L109.77,238.03 L109.92,237.24 L110.06,236.44 L110.2,235.64 L110.35,234.84 L110.49,234.04 L110.64,233.23 L110.78,232.42 L110.93,231.61 L111.07,230.8 L111.22,229.98 L111.36,229.16 L111.51,228.33 L111.65,227.5 L111.8,226.67 L111.94,225.84 L112.09,225 L112.23,224.17 L112.38,223.32 L112.52,222.48 L112.67,221.63 L112.81,220.78 L112.95,219.92 L113.1,219.06 L113.24,218.2 L113.39,217.34 L113.53,216.47 L113.68,215.6 L113.82,214.72 L113.97,213.84 L114.11,212.96 L114.26,212.08 L114.4,211.19 L114.55,210.3 L114.69,209.4 L114.84,208.5 L114.98,207.6 L115.13,206.7 L115.27,205.79 L115.42,204.88 L115.56,203.96 L115.7,203.04 L115.85,202.12 L115.99,201.19 L116.14,200.26 L116.28,199.33 L116.43,198.39 L116.57,197.45 L116.72,196.51 L116.86,195.56 L117.01,194.61 L117.15,193.65 L117.3,192.69 L117.44,191.73 L117.59,190.76 L117.73,189.79 L117.88,188.81 L118.02,187.83 L118.17,186.85 L118.31,185.87 L118.45,184.87 L118.6,183.88 L118.74,182.88 L118.89,181.88 L119.03,180.87 L119.18,179.86 L119.32,178.85 L119.47,177.83 L119.61,176.8 L119.76,175.78 L119.9,174.74 L120.05,173.71 L120.19,172.67 L120.34,171.62 L120.48,170.57 L120.63,169.52 L120.77,168.46 L120.92,167.4 L121.06,166.34 L121.2,165.26 L121.35,164.19 L121.49,163.11 L121.64,162.03 L121.78,160.94 L121.93,159.84 L122.07,158.74 L122.22,157.64 L122.36,156.53 L122.51,155.42 L122.65,154.3 L122.8,153.18 L122.94,152.06 L123.09,150.93 L123.23,149.79 L123.38,148.65 L123.52,147.5 L123.67,146.35 L123.81,145.19 L123.96,144.03 L124.1,142.87 L124.24,141.7 L124.39,140.52 L124.53,139.34 L124.68,138.15 L124.82,136.96 L124.97,135.76 L125.11,134.56 L125.26,133.35 L125.4,132.14 L125.55,130.92 L125.69,129.7 L125.84,128.47 L125.98,127.23 L126.13,125.99 L126.27,124.74 L126.42,123.49 L126.56,122.23 L126.71,120.97 L126.85,119.7 L126.99,118.43 L127.14,117.15 L127.28,115.86 L127.43,114.57 L127.57,113.27 L127.72,111.97 L127.86,110.65 L128.01,109.34 L128.15,108.02 L128.3,106.69 L128.44,105.35 L128.59,104.01 L128.73,102.66 L128.88,101.31 L129.02,99.95 L129.17,98.58 L129.31,97.21 L129.46,95.83 L129.6,94.44 L129.74,93.05 L129.89,91.65 L130.03,90.25 L130.18,88.83 L130.32,87.41 L130.47,85.99 L130.61,84.55 L130.76,83.11 L130.9,81.67 L131.05,80.21 L131.19,78.75 L131.34,77.28 L131.48,75.81 L131.63,74.32 L131.77,72.83 L131.92,71.33 L132.06,69.83 L132.21,68.32 L132.35,66.8 L132.49,65.27 L132.64,63.73 L132.78,62.19 L132.93,60.64 L133.07,59.08 L133.22,57.51 L133.36,55.94 L133.51,54.36 L133.65,52.77 L133.8,51.17 L133.94,49.56 L134.09,47.95 L134.23,46.32 L134.38,44.69 L134.52,43.05 L134.67,41.4 L134.81,39.74 L134.96,38.08 L135.1,36.4 L135.24,34.72 L135.39,33.03 L135.53,31.33 L135.68,29.62 L135.82,27.9 L135.97,26.17 L136.11,24.43 L136.26,22.68 L136.4,20.93 L136.55,19.16 L136.69,17.39 L136.84,15.6 L136.98,13.81 L137.13,12 L137.27,10.19 L137.42,8.37 L137.56,6.53 L137.71,4.69 L137.85,2.83 L137.99,0.97 L138.14,-0.91 L138.28,-2.79 L138.43,-4.69 L138.57,-6.59 L138.72,-8.51 L138.86,-10.44 L139.01,-12.37 L139.15,-14.32 L139.3,-16.28 L139.44,-18.26 L139.59,-20.24 L139.73,-22.23 L139.88,-24.24 L140.02,-26.25 L240.94,-26.25 L241.09,-24.24 L241.23,-22.23 L241.38,-20.24 L241.52,-18.26 L241.67,-16.28 L241.81,-14.32 L241.95,-12.37 L242.1,-10.44 L242.24,-8.51 L242.39,-6.59 L242.53,-4.69 L242.68,-2.79 L242.82,-0.91 L242.97,0.97 L243.11,2.83 L243.26,4.69 L243.4,6.53 L243.55,8.37 L243.69,10.19 L243.84,12 L243.98,13.81 L244.13,15.6 L244.27,17.39 L244.42,19.16 L244.56,20.93 L244.7,22.68 L244.85,24.43 L244.99,26.17 L245.14,27.9 L245.28,29.62 L245.43,31.33 L245.57,33.03 L245.72,34.72 L245.86,36.4 L246.01,38.08 L246.15,39.74 L246.3,41.4 L246.44,43.05 L246.59,44.69 L246.73,46.32 L246.88,47.95 L247.02,49.56 L247.17,51.17 L247.31,52.77 L247.46,54.36 L247.6,55.94 L247.74,57.51 L247.89,59.08 L248.03,60.64 L248.18,62.19 L248.32,63.73 L248.47,65.27 L248.61,66.8 L248.76,68.32 L248.9,69.83 L249.05,71.33 L249.19,72.83 L249.34,74.32 L249.48,75.81 L249.63,77.28 L249.77,78.75 L249.92,80.21 L250.06,81.67 L250.21,83.11 L250.35,84.55 L250.49,85.99 L250.64,87.41 L250.78,88.83 L250.93,90.25 L251.07,91.65 L251.22,93.05 L251.36,94.44 L251.51,95.83 L251.65,97.21 L251.8,98.58 L251.94,99.95 L252.09,101.31 L252.23,102.66 L252.38,104.01 L252.52,105.35 L252.67,106.69 L252.81,108.02 L252.96,109.34 L253.1,110.65 L253.24,111.97 L253.39,113.27 L253.53,114.57 L253.68,115.86 L253.82,117.15 L253.97,118.43 L254.11,119.7 L254.26,120.97 L254.4,122.23 L254.55,123.49 L254.69,124.74 L254.84,125.99 L254.98,127.23 L255.13,128.47 L255.27,129.7 L255.42,130.92 L255.56,132.14 L255.71,133.35 L255.85,134.56 L255.99,135.76 L256.14,136.96 L256.28,138.15 L256.43,139.34 L256.57,140.52 L256.72,141.7 L256.86,142.87 L257.01,144.03 L257.15,145.19 L257.3,146.35 L257.44,147.5 L257.59,148.65 L257.73,149.79 L257.88,150.93 L258.02,152.06 L258.17,153.18 L258.31,154.3 L258.46,155.42 L258.6,156.53 L258.74,157.64 L258.89,158.74 L259.03,159.84 L259.18,160.94 L259.32,162.03 L259.47,163.11 L259.61,164.19 L259.76,165.26 L259.9,166.34 L260.05,167.4 L260.19,168.46 L260.34,169.52 L260.48,170.57 L260.63,171.62 L260.77,172.67 L260.92,173.71 L261.06,174.74 L261.21,175.78 L261.35,176.8 L261.49,177.83 L261.64,178.85 L261.78,179.86 L261.93,180.87 L262.07,181.88 L262.22,182.88 L262.36,183.88 L262.51,184.87 L262.65,185.87 L262.8,186.85 L262.94,187.83 L263.09,188.81 L263.23,189.79 L263.38,190.76 L263.52,191.73 L263.67,192.69 L263.81,193.65 L263.96,194.61 L264.1,195.56 L264.25,196.51 L264.39,197.45 L264.53,198.39 L264.68,199.33 L264.82,200.26 L264.97,201.19 L265.11,202.12 L265.26,203.04 L265.4,203.96 L265.55,204.88 L265.69,205.79 L265.84,206.7 L265.98,207.6 L266.13,208.5 L266.27,209.4 L266.42,210.3 L266.56,211.19 L266.71,212.08 L266.85,212.96 L267,213.84 L267.14,214.72 L267.28,215.6 L267.43,216.47 L267.57,217.34 L267.72,218.2 L267.86,219.06 L268.01,219.92 L268.15,220.78 L268.3,221.63 L268.44,222.48 L268.59,223.32 L268.73,224.17 L268.88,225 L269.02,225.84 L269.17,226.67 L269.31,227.5 L269.46,228.33 L269.6,229.16 L269.75,229.98 L269.89,230.8 L270.03,231.61 L270.18,232.42 L270.32,233.23 L270.47,234.04 L270.61,234.84 L270.76,235.64 L270.9,236.44 L271.05,237.24 L271.19,238.03 L271.34,238.82 L271.48,239.6 L271.63,240.39 L271.77,241.17 L271.92,241.95 L272.06,242.72 L272.21,243.49 L272.35,244.26 L272.5,245.03 L272.64,245.79 L272.78,246.56 L272.93,247.31 L273.07,248.07 L273.22,248.82 L273.36,249.58 L273.51,250.32 L273.65,251.07 L273.8,251.81 L273.94,252.55 L274.09,253.29 L274.23,254.03 L274.38,254.76 L274.52,255.49 L274.67,256.22 L274.81,256.94 L274.96,257.67 L275.1,258.39 L275.25,259.1 L275.39,259.82 L275.53,260.53 L275.68,261.24 L275.82,261.95 L275.97,262.66 L276.11,263.36 L276.26,264.06 L276.4,264.76 L276.55,265.46 L276.69,266.15 L276.84,266.84 L276.98,267.53 L277.13,268.22 L277.27,268.91 L277.42,269.59 L277.56,270.27 L277.71,270.95 L277.85,271.62 L278,272.3 L278.14,272.97 L278.28,273.64 L278.43,274.3 L278.57,274.97 L278.72,275.63 L278.86,276.29 L279.01,276.95 L279.15,277.6 L279.3,278.26 L279.44,278.91 L279.59,279.56 L279.73,280.21 L279.88,280.85 L280.02,281.5 L280.17,282.14 L280.31,282.78 L280.46,283.41 L280.6,284.05 L280.75,284.68 L280.89,285.31 L281.03,285.94 L281.18,286.57 L281.32,287.19 L281.47,287.82 L281.61,288.44 L281.76,289.06 L281.9,289.68 L282.05,290.29 L282.19,290.9 L282.34,291.51 L282.48,292.12 L282.63,292.73 L282.77,293.34 L282.92,293.94 L283.06,294.54 L283.21,295.14 L283.35,295.74 L283.5,296.34 L283.64,296.93 L283.79,297.52 L283.93,298.11 L284.07,298.7 L284.22,299.29 L284.36,299.88 L284.51,300.46 L284.65,301.04 L284.8,301.62 L284.94,302.2 L285.09,302.77 L285.23,303.35 L285.38,303.92 L285.52,304.49 L285.67,305.06 L285.81,305.63 L285.96,306.2 L286.1,306.76 L286.25,307.32 L286.39,307.88 L286.54,308.44 L286.68,309 L286.82,309.55 L286.97,310.11 L287.11,310.66 L287.26,311.21 L287.4,311.76 L287.55,312.31 L287.69,312.85 L287.84,313.4 L287.98,313.94 L288.13,314.48 L288.27,315.02 L288.42,315.56 L288.56,316.09 L288.71,316.63 L288.85,317.16 L289,317.69 L289.14,318.22 L289.29,318.75 L289.43,319.28 L289.57,319.8 L289.72,320.33 L289.86,320.85 L290.01,321.37 L290.15,321.89 L290.3,322.41 L290.44,322.92 L290.59,323.44 L290.73,323.95 L290.88,324.46 L291.02,324.97 L291.17,325.48 L291.31,325.99 L291.46,326.49 L291.6,327 L291.75,327.5 L291.89,328 L292.04,328.5 L292.18,329 L292.32,329.5 L292.47,330 L292.61,330.49 L292.76,330.98 L292.9,331.47 L293.05,331.96 L293.19,332.45 L293.34,332.94 L293.48,333.43 L293.63,333.91 L293.77,334.4 L293.92,334.88 L294.06,335.36 L294.21,335.84 L294.35,336.32 L294.5,336.79 L294.64,337.27 L294.79,337.74 L294.93,338.21 L295.07,338.69 L295.22,339.16 L295.36,339.62 L295.51,340.09 L295.65,340.56 L295.8,341.02 L295.94,341.49 L296.09,341.95 L296.23,342.41 L296.38,342.87 L296.52,343.33 L296.67,343.79 L296.81,344.24 L296.96,344.7 L297.1,345.15 L297.25,345.6 L297.39,346.05 L297.54,346.5 L297.68,346.95 L297.82,347.4 L297.97,347.85 L298.11,348.29 L298.26,348.74 L298.4,349.18 L298.55,349.62 L298.69,350.06 L298.84,350.5Z" fill="#fff"/>
<path d="M82.12,350.5 L82.27,350.06 L82.41,349.62 L82.56,349.18 L82.7,348.74 L82.85,348.29 L82.99,347.85 L83.14,347.4 L83.28,346.95 L83.43,346.5 L83.57,346.05 L83.72,345.6 L83.86,345.15 L84.01,344.7 L84.15,344.24 L84.3,343.79 L84.44,343.33 L84.59,342.87 L84.73,342.41 L84.87,341.95 L85.02,341.49 L85.16,341.02 L85.31,340.56 L85.45,340.09 L85.6,339.62 L85.74,339.16 L85.89,338.69 L86.03,338.21 L86.18,337.74 L86.32,337.27 L86.47,336.79 L86.61,336.32 L86.76,335.84 L86.9,335.36 L87.05,334.88 L87.19,334.4 L87.34,333.91 L87.48,333.43 L87.63,332.94 L87.77,332.45 L87.91,331.96 L88.06,331.47 L88.2,330.98 L88.35,330.49 L88.49,330 L88.64,329.5 L88.78,329 L88.93,328.5 L89.07,328 L89.22,327.5 L89.36,327 L89.51,326.49 L89.65,325.99 L89.8,325.48 L89.94,324.97 L90.09,324.46 L90.23,323.95 L90.38,323.44 L90.52,322.92 L90.66,322.41 L90.81,321.89 L90.95,321.37 L91.1,320.85 L91.24,320.33 L91.39,319.8 L91.53,319.28 L91.68,318.75 L91.82,318.22 L91.97,317.69 L92.11,317.16 L92.26,316.63 L92.4,316.09 L92.55,315.56 L92.69,315.02 L92.84,314.48 L92.98,313.94 L93.13,313.4 L93.27,312.85 L93.41,312.31 L93.56,311.76 L93.7,311.21 L93.85,310.66 L93.99,310.11 L94.14,309.55 L94.28,309 L94.43,308.44 L94.57,307.88 L94.72,307.32 L94.86,306.76 L95.01,306.2 L95.15,305.63 L95.3,305.06 L95.44,304.49 L95.59,303.92 L95.73,303.35 L95.88,302.77 L96.02,302.2 L96.16,301.62 L96.31,301.04 L96.45,300.46 L96.6,299.88 L96.74,299.29 L96.89,298.7 L97.03,298.11 L97.18,297.52 L97.32,296.93 L97.47,296.34 L97.61,295.74 L97.76,295.14 L97.9,294.54 L98.05,293.94 L98.19,293.34 L98.34,292.73 L98.48,292.12 L98.63,291.51 L98.77,290.9 L98.91,290.29 L99.06,289.68 L99.2,289.06 L99.35,288.44 L99.49,287.82 L99.64,287.19 L99.78,286.57 L99.93,285.94 L100.07,285.31 L100.22,284.68 L100.36,284.05 L100.51,283.41 L100.65,282.78 L100.8,282.14 L100.94,281.5 L101.09,280.85 L101.23,280.21 L101.38,279.56 L101.52,278.91 L101.66,278.26 L101.81,277.6 L101.95,276.95 L102.1,276.29 L102.24,275.63 L102.39,274.97 L102.53,274.3 L102.68,273.64 L102.82,272.97 L102.97,272.3 L103.11,271.62 L103.26,270.95 L103.4,270.27 L103.55,269.59 L103.69,268.91 L103.84,268.22 L103.98,267.53 L104.13,266.84 L104.27,266.15 L104.41,265.46 L104.56,264.76 L104.7,264.06 L104.85,263.36 L104.99,262.66 L105.14,261.95 L105.28,261.24 L105.43,260.53 L105.57,259.82 L105.72,259.1 L105.86,258.39 L106.01,257.67 L106.15,256.94 L106.3,256.22 L106.44,255.49 L106.59,254.76 L106.73,254.03 L106.88,253.29 L107.02,252.55 L107.17,251.81 L107.31,251.07 L107.45,250.32 L107.6,249.58 L107.74,248.82 L107.89,248.07 L108.03,247.31 L108.18,246.56 L108.32,245.79 L108.47,245.03 L108.61,244.26 L108.76,243.49 L108.9,242.72 L109.05,241.95 L109.19,241.17 L109.34,240.39 L109.48,239.6 L109.63,238.82 L109.77,238.03 L109.92,237.24 L110.06,236.44 L110.2,235.64 L110.35,234.84 L110.49,234.04 L110.64,233.23 L110.78,232.42 L110.93,231.61 L111.07,230.8 L111.22,229.98 L111.36,229.16 L111.51,228.33 L111.65,227.5 L111.8,226.67 L111.94,225.84 L112.09,225 L112.23,224.17 L112.38,223.32 L112.52,222.48 L112.67,221.63 L112.81,220.78 L112.95,219.92 L113.1,219.06 L113.24,218.2 L113.39,217.34 L113.53,216.47 L113.68,215.6 L113.82,214.72 L113.97,213.84 L114.11,212.96 L114.26,212.08 L114.4,211.19 L114.55,210.3 L114.69,209.4 L114.84,208.5 L114.98,207.6 L115.13,206.7 L115.27,205.79 L115.42,204.88 L115.56,203.96 L115.7,203.04 L115.85,202.12 L115.99,201.19 L116.14,200.26 L116.28,199.33 L116.43,198.39 L116.57,197.45 L116.72,196.51 L116.86,195.56 L117.01,194.61 L117.15,193.65 L117.3,192.69 L117.44,191.73 L117.59,190.76 L117.73,189.79 L117.88,188.81 L118.02,187.83 L118.17,186.85 L118.31,185.87 L118.45,184.87 L118.6,183.88 L118.74,182.88 L118.89,181.88 L119.03,180.87 L119.18,179.86 L119.32,178.85 L119.47,177.83 L119.61,176.8 L119.76,175.78 L119.9,174.74 L120.05,173.71 L120.19,172.67 L120.34,171.62 L120.48,170.57 L120.63,169.52 L120.77,168.46 L120.92,167.4 L121.06,166.34 L121.2,165.26 L121.35,164.19 L121.49,163.11 L121.64,162.03 L121.78,160.94 L121.93,159.84 L122.07,158.74 L122.22,157.64 L122.36,156.53 L122.51,155.42 L122.65,154.3 L122.8,153.18 L122.94,152.06 L123.09,150.93 L123.23,149.79 L123.38,148.65 L123.52,147.5 L123.67,146.35 L123.81,145.19 L123.96,144.03 L124.1,142.87 L124.24,141.7 L124.39,140.52 L124.53,139.34 L124.68,138.15 L124.82,136.96 L124.97,135.76 L125.11,134.56 L125.26,133.35 L125.4,132.14 L125.55,130.92 L125.69,129.7 L125.84,128.47 L125.98,127.23 L126.13,125.99 L126.27,124.74 L126.42,123.49 L126.56,122.23 L126.71,120.97 L126.85,119.7 L126.99,118.43 L127.14,117.15 L127.28,115.86 L127.43,114.57 L127.57,113.27 L127.72,111.97 L127.86,110.65 L128.01,109.34 L128.15,108.02 L128.3,106.69 L128.44,105.35 L128.59,104.01 L128.73,102.66 L128.88,101.31 L129.02,99.95 L129.17,98.58 L129.31,97.21 L129.46,95.83 L129.6,94.44 L129.74,93.05 L129.89,91.65 L130.03,90.25 L130.18,88.83 L130.32,87.41 L130.47,85.99 L130.61,84.55 L130.76,83.11 L130.9,81.67 L131.05,80.21 L131.19,78.75 L131.34,77.28 L131.48,75.81 L131.63,74.32 L131.77,72.83 L131.92,71.33 L132.06,69.83 L132.21,68.32 L132.35,66.8 L132.49,65.27 L132.64,63.73 L132.78,62.19 L132.93,60.64 L133.07,59.08 L133.22,57.51 L133.36,55.94 L133.51,54.36 L133.65,52.77 L133.8,51.17 L133.94,49.56 L134.09,47.95 L134.23,46.32 L134.38,44.69 L134.52,43.05 L134.67,41.4 L134.81,39.74 L134.96,38.08 L135.1,36.4 L135.24,34.72 L135.39,33.03 L135.53,31.33 L135.68,29.62 L135.82,27.9 L135.97,26.17 L136.11,24.43 L136.26,22.68 L136.4,20.93 L136.55,19.16 L136.69,17.39 L136.84,15.6 L136.98,13.81 L137.13,12 L137.27,10.19 L137.42,8.37 L137.56,6.53 L137.71,4.69 L137.85,2.83 L137.99,0.97 L138.14,-0.91 L138.28,-2.79 L138.43,-4.69 L138.57,-6.59 L138.72,-8.51 L138.86,-10.44 L139.01,-12.37 L139.15,-14.32 L139.3,-16.28 L139.44,-18.26 L139.59,-20.24 L139.73,-22.23 L139.88,-24.24 L140.02,-26.25" fill="none" stroke="#231f20" stroke-width="0.8" stroke-dasharray="1 2.9"/>
<path d="M298.84,350.5 L298.69,350.06 L298.55,349.62 L298.4,349.18 L298.26,348.74 L298.11,348.29 L297.97,347.85 L297.82,347.4 L297.68,346.95 L297.54,346.5 L297.39,346.05 L297.25,345.6 L297.1,345.15 L296.96,344.7 L296.81,344.24 L296.67,343.79 L296.52,343.33 L296.38,342.87 L296.23,342.41 L296.09,341.95 L295.94,341.49 L295.8,341.02 L295.65,340.56 L295.51,340.09 L295.36,339.62 L295.22,339.16 L295.07,338.69 L294.93,338.21 L294.79,337.74 L294.64,337.27 L294.5,336.79 L294.35,336.32 L294.21,335.84 L294.06,335.36 L293.92,334.88 L293.77,334.4 L293.63,333.91 L293.48,333.43 L293.34,332.94 L293.19,332.45 L293.05,331.96 L292.9,331.47 L292.76,330.98 L292.61,330.49 L292.47,330 L292.32,329.5 L292.18,329 L292.04,328.5 L291.89,328 L291.75,327.5 L291.6,327 L291.46,326.49 L291.31,325.99 L291.17,325.48 L291.02,324.97 L290.88,324.46 L290.73,323.95 L290.59,323.44 L290.44,322.92 L290.3,322.41 L290.15,321.89 L290.01,321.37 L289.86,320.85 L289.72,320.33 L289.57,319.8 L289.43,319.28 L289.29,318.75 L289.14,318.22 L289,317.69 L288.85,317.16 L288.71,316.63 L288.56,316.09 L288.42,315.56 L288.27,315.02 L288.13,314.48 L287.98,313.94 L287.84,313.4 L287.69,312.85 L287.55,312.31 L287.4,311.76 L287.26,311.21 L287.11,310.66 L286.97,310.11 L286.82,309.55 L286.68,309 L286.54,308.44 L286.39,307.88 L286.25,307.32 L286.1,306.76 L285.96,306.2 L285.81,305.63 L285.67,305.06 L285.52,304.49 L285.38,303.92 L285.23,303.35 L285.09,302.77 L284.94,302.2 L284.8,301.62 L284.65,301.04 L284.51,300.46 L284.36,299.88 L284.22,299.29 L284.07,298.7 L283.93,298.11 L283.79,297.52 L283.64,296.93 L283.5,296.34 L283.35,295.74 L283.21,295.14 L283.06,294.54 L282.92,293.94 L282.77,293.34 L282.63,292.73 L282.48,292.12 L282.34,291.51 L282.19,290.9 L282.05,290.29 L281.9,289.68 L281.76,289.06 L281.61,288.44 L281.47,287.82 L281.32,287.19 L281.18,286.57 L281.03,285.94 L280.89,285.31 L280.75,284.68 L280.6,284.05 L280.46,283.41 L280.31,282.78 L280.17,282.14 L280.02,281.5 L279.88,280.85 L279.73,280.21 L279.59,279.56 L279.44,278.91 L279.3,278.26 L279.15,277.6 L279.01,276.95 L278.86,276.29 L278.72,275.63 L278.57,274.97 L278.43,274.3 L278.28,273.64 L278.14,272.97 L278,272.3 L277.85,271.62 L277.71,270.95 L277.56,270.27 L277.42,269.59 L277.27,268.91 L277.13,268.22 L276.98,267.53 L276.84,266.84 L276.69,266.15 L276.55,265.46 L276.4,264.76 L276.26,264.06 L276.11,263.36 L275.97,262.66 L275.82,261.95 L275.68,261.24 L275.53,260.53 L275.39,259.82 L275.25,259.1 L275.1,258.39 L274.96,257.67 L274.81,256.94 L274.67,256.22 L274.52,255.49 L274.38,254.76 L274.23,254.03 L274.09,253.29 L273.94,252.55 L273.8,251.81 L273.65,251.07 L273.51,250.32 L273.36,249.58 L273.22,248.82 L273.07,248.07 L272.93,247.31 L272.78,246.56 L272.64,245.79 L272.5,245.03 L272.35,244.26 L272.21,243.49 L272.06,242.72 L271.92,241.95 L271.77,241.17 L271.63,240.39 L271.48,239.6 L271.34,238.82 L271.19,238.03 L271.05,237.24 L270.9,236.44 L270.76,235.64 L270.61,234.84 L270.47,234.04 L270.32,233.23 L270.18,232.42 L270.03,231.61 L269.89,230.8 L269.75,229.98 L269.6,229.16 L269.46,228.33 L269.31,227.5 L269.17,226.67 L269.02,225.84 L268.88,225 L268.73,224.17 L268.59,223.32 L268.44,222.48 L268.3,221.63 L268.15,220.78 L268.01,219.92 L267.86,219.06 L267.72,218.2 L267.57,217.34 L267.43,216.47 L267.28,215.6 L267.14,214.72 L267,213.84 L266.85,212.96 L266.71,212.08 L266.56,211.19 L266.42,210.3 L266.27,209.4 L266.13,208.5 L265.98,207.6 L265.84,206.7 L265.69,205.79 L265.55,204.88 L265.4,203.96 L265.26,203.04 L265.11,202.12 L264.97,201.19 L264.82,200.26 L264.68,199.33 L264.53,198.39 L264.39,197.45 L264.25,196.51 L264.1,195.56 L263.96,194.61 L263.81,193.65 L263.67,192.69 L263.52,191.73 L263.38,190.76 L263.23,189.79 L263.09,188.81 L262.94,187.83 L262.8,186.85 L262.65,185.87 L262.51,184.87 L262.36,183.88 L262.22,182.88 L262.07,181.88 L261.93,180.87 L261.78,179.86 L261.64,178.85 L261.49,177.83 L261.35,176.8 L261.21,175.78 L261.06,174.74 L260.92,173.71 L260.77,172.67 L260.63,171.62 L260.48,170.57 L260.34,169.52 L260.19,168.46 L260.05,167.4 L259.9,166.34 L259.76,165.26 L259.61,164.19 L259.47,163.11 L259.32,162.03 L259.18,160.94 L259.03,159.84 L258.89,158.74 L258.74,157.64 L258.6,156.53 L258.46,155.42 L258.31,154.3 L258.17,153.18 L258.02,152.06 L257.88,150.93 L257.73,149.79 L257.59,148.65 L257.44,147.5 L257.3,146.35 L257.15,145.19 L257.01,144.03 L256.86,142.87 L256.72,141.7 L256.57,140.52 L256.43,139.34 L256.28,138.15 L256.14,136.96 L255.99,135.76 L255.85,134.56 L255.71,133.35 L255.56,132.14 L255.42,130.92 L255.27,129.7 L255.13,128.47 L254.98,127.23 L254.84,125.99 L254.69,124.74 L254.55,123.49 L254.4,122.23 L254.26,120.97 L254.11,119.7 L253.97,118.43 L253.82,117.15 L253.68,115.86 L253.53,114.57 L253.39,113.27 L253.24,111.97 L253.1,110.65 L252.96,109.34 L252.81,108.02 L252.67,106.69 L252.52,105.35 L252.38,104.01 L252.23,102.66 L252.09,101.31 L251.94,99.95 L251.8,98.58 L251.65,97.21 L251.51,95.83 L251.36,94.44 L251.22,93.05 L251.07,91.65 L250.93,90.25 L250.78,88.83 L250.64,87.41 L250.49,85.99 L250.35,84.55 L250.21,83.11 L250.06,81.67 L249.92,80.21 L249.77,78.75 L249.63,77.28 L249.48,75.81 L249.34,74.32 L249.19,72.83 L249.05,71.33 L248.9,69.83 L248.76,68.32 L248.61,66.8 L248.47,65.27 L248.32,63.73 L248.18,62.19 L248.03,60.64 L247.89,59.08 L247.74,57.51 L247.6,55.94 L247.46,54.36 L247.31,52.77 L247.17,51.17 L247.02,49.56 L246.88,47.95 L246.73,46.32 L246.59,44.69 L246.44,43.05 L246.3,41.4 L246.15,39.74 L246.01,38.08 L245.86,36.4 L245.72,34.72 L245.57,33.03 L245.43,31.33 L245.28,29.62 L245.14,27.9 L244.99,26.17 L244.85,24.43 L244.7,22.68 L244.56,20.93 L244.42,19.16 L244.27,17.39 L244.13,15.6 L243.98,13.81 L243.84,12 L243.69,10.19 L243.55,8.37 L243.4,6.53 L243.26,4.69 L243.11,2.83 L242.97,0.97 L242.82,-0.91 L242.68,-2.79 L242.53,-4.69 L242.39,-6.59 L242.24,-8.51 L242.1,-10.44 L241.95,-12.37 L241.81,-14.32 L241.67,-16.28 L241.52,-18.26 L241.38,-20.24 L241.23,-22.23 L241.09,-24.24 L240.94,-26.25" fill="none" stroke="#231f20" stroke-width="0.8" stroke-dasharray="1 2.9"/>
</g>
<line x1="190.5" x2="190.5" y1="16.5" y2="350.5" stroke="#2b2829" stroke-width="1"/>
<circle cx="195.36" cy="29.49" r="3.2" fill="#231f20"/>
<circle cx="206" cy="81.84" r="3.2" fill="#231f20"/>
<circle cx="180.79" cy="181.56" r="3.2" fill="#231f20"/>
<circle cx="157.42" cy="219.27" r="3.2" fill="#231f20"/>
<circle cx="183.65" cy="228.54" r="3.2" fill="#231f20"/>
<circle cx="202.41" cy="243.89" r="3.2" fill="#231f20"/>
<circle cx="195.77" cy="249.33" r="3.2" fill="#231f20"/>
<circle cx="180.7" cy="291.1" r="3.2" fill="#231f20"/>
<circle cx="186.61" cy="320.65" r="3.2" fill="#231f20"/>
<circle cx="204.4" cy="350.5" r="3.2" fill="#231f20"/>
<path d="M49.65,16 V363 H331" fill="none" stroke="#454547" stroke-width="1.2" stroke-linejoin="round"/>
<line x1="42" x2="49" y1="29.5" y2="29.5" stroke="#454547" stroke-width="1"/>
<line x1="42" x2="49" y1="109.75" y2="109.75" stroke="#454547" stroke-width="1"/>
<line x1="42" x2="49" y1="190" y2="190" stroke="#454547" stroke-width="1"/>
<line x1="42" x2="49" y1="270.25" y2="270.25" stroke="#454547" stroke-width="1"/>
<line x1="42" x2="49" y1="350.5" y2="350.5" stroke="#454547" stroke-width="1"/>
<line x1="102" x2="102" y1="363.5" y2="370.5" stroke="#454547" stroke-width="1"/>
<line x1="169.75" x2="169.75" y1="363.5" y2="370.5" stroke="#454547" stroke-width="1"/>
<line x1="237.5" x2="237.5" y1="363.5" y2="370.5" stroke="#454547" stroke-width="1"/>
<line x1="305.25" x2="305.25" y1="363.5" y2="370.5" stroke="#454547" stroke-width="1"/>
<g filter="url(#gs)"><text transform="translate(32.8,29.5) rotate(-90)" text-anchor="middle" font-size="12">4.847</text>
<text transform="translate(32.8,109.75) rotate(-90)" text-anchor="middle" font-size="12">4.248</text>
<text transform="translate(32.8,190) rotate(-90)" text-anchor="middle" font-size="12">3.648</text>
<text transform="translate(32.8,270.25) rotate(-90)" text-anchor="middle" font-size="12">3.049</text>
<text transform="translate(32.8,350.5) rotate(-90)" text-anchor="middle" font-size="12">2.45</text>
<text x="102" y="386.2" text-anchor="middle" font-size="12">0.5</text>
<text x="169.75" y="386.2" text-anchor="middle" font-size="12">1</text>
<text x="237.5" y="386.2" text-anchor="middle" font-size="12">1.5</text>
<text x="305.25" y="386.2" text-anchor="middle" font-size="12">2</text>
<text x="198.8" y="406.9" text-anchor="middle" font-size="14.7">Log Odds Ratio</text>
<text x="190.5" y="8.3" text-anchor="middle" font-size="14.5" font-weight="bold">Inverse Standard Error</text>
<text transform="translate(11.1,179.3) rotate(-90)" text-anchor="middle" font-size="14.7">Inverse Standard Error</text></g>
</g>
<g transform="translate(353.7,436.5)">
<clipPath id="c4"><rect x="50.0" y="16.5" width="281" height="346.5"/></clipPath>
<rect x="50.0" y="16.5" width="281" height="346.5" fill="#d6d7d9"/>
<g clip-path="url(#c4)">
<line x1="50.0" x2="331" y1="29.5" y2="29.5" stroke="#fff" stroke-width="1.2"/>
<line x1="50.0" x2="331" y1="109.75" y2="109.75" stroke="#fff" stroke-width="1.2"/>
<line x1="50.0" x2="331" y1="190" y2="190" stroke="#fff" stroke-width="1.2"/>
<line x1="50.0" x2="331" y1="270.25" y2="270.25" stroke="#fff" stroke-width="1.2"/>
<line x1="50.0" x2="331" y1="350.5" y2="350.5" stroke="#fff" stroke-width="1.2"/>
<path d="M82.12,350.5 L82.27,350.2 L82.41,349.91 L82.56,349.61 L82.7,349.31 L82.85,349.01 L82.99,348.71 L83.14,348.41 L83.28,348.1 L83.43,347.8 L83.57,347.49 L83.72,347.19 L83.86,346.88 L84.01,346.57 L84.15,346.26 L84.3,345.94 L84.44,345.63 L84.59,345.32 L84.73,345 L84.87,344.68 L85.02,344.36 L85.16,344.04 L85.31,343.72 L85.45,343.4 L85.6,343.07 L85.74,342.75 L85.89,342.42 L86.03,342.09 L86.18,341.76 L86.32,341.43 L86.47,341.1 L86.61,340.77 L86.76,340.43 L86.9,340.1 L87.05,339.76 L87.19,339.42 L87.34,339.08 L87.48,338.73 L87.63,338.39 L87.77,338.05 L87.91,337.7 L88.06,337.35 L88.2,337 L88.35,336.65 L88.49,336.3 L88.64,335.94 L88.78,335.59 L88.93,335.23 L89.07,334.87 L89.22,334.51 L89.36,334.15 L89.51,333.79 L89.65,333.42 L89.8,333.06 L89.94,332.69 L90.09,332.32 L90.23,331.95 L90.38,331.57 L90.52,331.2 L90.66,330.82 L90.81,330.45 L90.95,330.07 L91.1,329.69 L91.24,329.3 L91.39,328.92 L91.53,328.53 L91.68,328.15 L91.82,327.76 L91.97,327.36 L92.11,326.97 L92.26,326.58 L92.4,326.18 L92.55,325.78 L92.69,325.38 L92.84,324.98 L92.98,324.58 L93.13,324.17 L93.27,323.77 L93.41,323.36 L93.56,322.95 L93.7,322.53 L93.85,322.12 L93.99,321.7 L94.14,321.28 L94.28,320.86 L94.43,320.44 L94.57,320.02 L94.72,319.59 L94.86,319.16 L95.01,318.73 L95.15,318.3 L95.3,317.87 L95.44,317.43 L95.59,317 L95.73,316.56 L95.88,316.11 L96.02,315.67 L96.16,315.23 L96.31,314.78 L96.45,314.33 L96.6,313.88 L96.74,313.42 L96.89,312.97 L97.03,312.51 L97.18,312.05 L97.32,311.58 L97.47,311.12 L97.61,310.65 L97.76,310.18 L97.9,309.71 L98.05,309.24 L98.19,308.76 L98.34,308.29 L98.48,307.81 L98.63,307.32 L98.77,306.84 L98.91,306.35 L99.06,305.86 L99.2,305.37 L99.35,304.88 L99.49,304.38 L99.64,303.88 L99.78,303.38 L99.93,302.88 L100.07,302.37 L100.22,301.86 L100.36,301.35 L100.51,300.84 L100.65,300.32 L100.8,299.8 L100.94,299.28 L101.09,298.76 L101.23,298.23 L101.38,297.71 L101.52,297.17 L101.66,296.64 L101.81,296.1 L101.95,295.57 L102.1,295.02 L102.24,294.48 L102.39,293.93 L102.53,293.38 L102.68,292.83 L102.82,292.28 L102.97,291.72 L103.11,291.16 L103.26,290.59 L103.4,290.03 L103.55,289.46 L103.69,288.89 L103.84,288.31 L103.98,287.73 L104.13,287.15 L104.27,286.57 L104.41,285.98 L104.56,285.39 L104.7,284.8 L104.85,284.21 L104.99,283.61 L105.14,283.01 L105.28,282.4 L105.43,281.79 L105.57,281.18 L105.72,280.57 L105.86,279.95 L106.01,279.33 L106.15,278.71 L106.3,278.08 L106.44,277.45 L106.59,276.82 L106.73,276.18 L106.88,275.54 L107.02,274.9 L107.17,274.25 L107.31,273.6 L107.45,272.95 L107.6,272.29 L107.74,271.63 L107.89,270.97 L108.03,270.3 L108.18,269.63 L108.32,268.96 L108.47,268.28 L108.61,267.6 L108.76,266.92 L108.9,266.23 L109.05,265.54 L109.19,264.84 L109.34,264.14 L109.48,263.44 L109.63,262.73 L109.77,262.02 L109.92,261.3 L110.06,260.58 L110.2,259.86 L110.35,259.14 L110.49,258.41 L110.64,257.67 L110.78,256.93 L110.93,256.19 L111.07,255.44 L111.22,254.69 L111.36,253.94 L111.51,253.18 L111.65,252.42 L111.8,251.65 L111.94,250.88 L112.09,250.1 L112.23,249.32 L112.38,248.54 L112.52,247.75 L112.67,246.96 L112.81,246.16 L112.95,245.36 L113.1,244.55 L113.24,243.74 L113.39,242.92 L113.53,242.1 L113.68,241.28 L113.82,240.45 L113.97,239.61 L114.11,238.77 L114.26,237.93 L114.4,237.08 L114.55,236.23 L114.69,235.37 L114.84,234.51 L114.98,233.64 L115.13,232.76 L115.27,231.89 L115.42,231 L115.56,230.11 L115.7,229.22 L115.85,228.32 L115.99,227.42 L116.14,226.51 L116.28,225.59 L116.43,224.67 L116.57,223.75 L116.72,222.81 L116.86,221.88 L117.01,220.94 L117.15,219.99 L117.3,219.03 L117.44,218.08 L117.59,217.11 L117.73,216.14 L117.88,215.16 L118.02,214.18 L118.17,213.19 L118.31,212.2 L118.45,211.2 L118.6,210.19 L118.74,209.18 L118.89,208.16 L119.03,207.14 L119.18,206.11 L119.32,205.07 L119.47,204.03 L119.61,202.98 L119.76,201.92 L119.9,200.86 L120.05,199.79 L120.19,198.71 L120.34,197.63 L120.48,196.54 L120.63,195.44 L120.77,194.34 L120.92,193.23 L121.06,192.12 L121.2,190.99 L121.35,189.86 L121.49,188.72 L121.64,187.58 L121.78,186.42 L121.93,185.27 L122.07,184.1 L122.22,182.92 L122.36,181.74 L122.51,180.55 L122.65,179.35 L122.8,178.15 L122.94,176.94 L123.09,175.72 L123.23,174.49 L123.38,173.25 L123.52,172.01 L123.67,170.76 L123.81,169.49 L123.96,168.23 L124.1,166.95 L124.24,165.66 L124.39,164.37 L124.53,163.07 L124.68,161.76 L124.82,160.44 L124.97,159.11 L125.11,157.77 L125.26,156.42 L125.4,155.07 L125.55,153.7 L125.69,152.33 L125.84,150.95 L125.98,149.56 L126.13,148.15 L126.27,146.74 L126.42,145.32 L126.56,143.89 L126.71,142.45 L126.85,141 L126.99,139.54 L127.14,138.07 L127.28,136.59 L127.43,135.1 L127.57,133.6 L127.72,132.09 L127.86,130.57 L128.01,129.04 L128.15,127.5 L128.3,125.94 L128.44,124.38 L128.59,122.8 L128.73,121.22 L128.88,119.62 L129.02,118.01 L129.17,116.39 L129.31,114.76 L129.46,113.12 L129.6,111.46 L129.74,109.79 L129.89,108.11 L130.03,106.42 L130.18,104.72 L130.32,103.01 L130.47,101.28 L130.61,99.54 L130.76,97.78 L130.9,96.02 L131.05,94.24 L131.19,92.45 L131.34,90.64 L131.48,88.82 L131.63,86.99 L131.77,85.15 L131.92,83.29 L132.06,81.42 L132.21,79.53 L132.35,77.63 L132.49,75.71 L132.64,73.78 L132.78,71.84 L132.93,69.88 L133.07,67.91 L133.22,65.92 L133.36,63.91 L133.51,61.9 L133.65,59.86 L133.8,57.81 L133.94,55.75 L134.09,53.66 L134.23,51.57 L134.38,49.45 L134.52,47.32 L134.67,45.17 L134.81,43.01 L134.96,40.83 L135.1,38.63 L135.24,36.42 L135.39,34.18 L135.53,31.93 L135.68,29.66 L135.82,27.38 L135.97,25.07 L136.11,22.75 L136.26,20.41 L136.4,18.05 L136.55,15.67 L136.69,13.27 L136.84,10.85 L136.98,8.41 L137.13,5.96 L137.27,3.48 L137.42,0.98 L137.56,-1.54 L137.71,-4.08 L137.85,-6.64 L137.99,-9.22 L138.14,-11.82 L138.28,-14.45 L138.43,-17.09 L138.57,-19.76 L138.72,-22.45 L138.86,-25.17 L139.01,-27.9 L139.15,-30.66 L139.3,-33.45 L139.44,-36.25 L139.59,-39.08 L139.73,-41.94 L139.88,-44.82 L140.02,-47.72 L240.94,-47.72 L241.09,-44.82 L241.23,-41.94 L241.38,-39.08 L241.52,-36.25 L241.67,-33.45 L241.81,-30.66 L241.95,-27.9 L242.1,-25.17 L242.24,-22.45 L242.39,-19.76 L242.53,-17.09 L242.68,-14.45 L242.82,-11.82 L242.97,-9.22 L243.11,-6.64 L243.26,-4.08 L243.4,-1.54 L243.55,0.98 L243.69,3.48 L243.84,5.96 L243.98,8.41 L244.13,10.85 L244.27,13.27 L244.42,15.67 L244.56,18.05 L244.7,20.41 L244.85,22.75 L244.99,25.07 L245.14,27.38 L245.28,29.66 L245.43,31.93 L245.57,34.18 L245.72,36.42 L245.86,38.63 L246.01,40.83 L246.15,43.01 L246.3,45.17 L246.44,47.32 L246.59,49.45 L246.73,51.57 L246.88,53.66 L247.02,55.75 L247.17,57.81 L247.31,59.86 L247.46,61.9 L247.6,63.91 L247.74,65.92 L247.89,67.91 L248.03,69.88 L248.18,71.84 L248.32,73.78 L248.47,75.71 L248.61,77.63 L248.76,79.53 L248.9,81.42 L249.05,83.29 L249.19,85.15 L249.34,86.99 L249.48,88.82 L249.63,90.64 L249.77,92.45 L249.92,94.24 L250.06,96.02 L250.21,97.78 L250.35,99.54 L250.49,101.28 L250.64,103.01 L250.78,104.72 L250.93,106.42 L251.07,108.11 L251.22,109.79 L251.36,111.46 L251.51,113.12 L251.65,114.76 L251.8,116.39 L251.94,118.01 L252.09,119.62 L252.23,121.22 L252.38,122.8 L252.52,124.38 L252.67,125.94 L252.81,127.5 L252.96,129.04 L253.1,130.57 L253.24,132.09 L253.39,133.6 L253.53,135.1 L253.68,136.59 L253.82,138.07 L253.97,139.54 L254.11,141 L254.26,142.45 L254.4,143.89 L254.55,145.32 L254.69,146.74 L254.84,148.15 L254.98,149.56 L255.13,150.95 L255.27,152.33 L255.42,153.7 L255.56,155.07 L255.71,156.42 L255.85,157.77 L255.99,159.11 L256.14,160.44 L256.28,161.76 L256.43,163.07 L256.57,164.37 L256.72,165.66 L256.86,166.95 L257.01,168.23 L257.15,169.49 L257.3,170.76 L257.44,172.01 L257.59,173.25 L257.73,174.49 L257.88,175.72 L258.02,176.94 L258.17,178.15 L258.31,179.35 L258.46,180.55 L258.6,181.74 L258.74,182.92 L258.89,184.1 L259.03,185.27 L259.18,186.42 L259.32,187.58 L259.47,188.72 L259.61,189.86 L259.76,190.99 L259.9,192.12 L260.05,193.23 L260.19,194.34 L260.34,195.44 L260.48,196.54 L260.63,197.63 L260.77,198.71 L260.92,199.79 L261.06,200.86 L261.21,201.92 L261.35,202.98 L261.49,204.03 L261.64,205.07 L261.78,206.11 L261.93,207.14 L262.07,208.16 L262.22,209.18 L262.36,210.19 L262.51,211.2 L262.65,212.2 L262.8,213.19 L262.94,214.18 L263.09,215.16 L263.23,216.14 L263.38,217.11 L263.52,218.08 L263.67,219.03 L263.81,219.99 L263.96,220.94 L264.1,221.88 L264.25,222.81 L264.39,223.75 L264.53,224.67 L264.68,225.59 L264.82,226.51 L264.97,227.42 L265.11,228.32 L265.26,229.22 L265.4,230.11 L265.55,231 L265.69,231.89 L265.84,232.76 L265.98,233.64 L266.13,234.51 L266.27,235.37 L266.42,236.23 L266.56,237.08 L266.71,237.93 L266.85,238.77 L267,239.61 L267.14,240.45 L267.28,241.28 L267.43,242.1 L267.57,242.92 L267.72,243.74 L267.86,244.55 L268.01,245.36 L268.15,246.16 L268.3,246.96 L268.44,247.75 L268.59,248.54 L268.73,249.32 L268.88,250.1 L269.02,250.88 L269.17,251.65 L269.31,252.42 L269.46,253.18 L269.6,253.94 L269.75,254.69 L269.89,255.44 L270.03,256.19 L270.18,256.93 L270.32,257.67 L270.47,258.41 L270.61,259.14 L270.76,259.86 L270.9,260.58 L271.05,261.3 L271.19,262.02 L271.34,262.73 L271.48,263.44 L271.63,264.14 L271.77,264.84 L271.92,265.54 L272.06,266.23 L272.21,266.92 L272.35,267.6 L272.5,268.28 L272.64,268.96 L272.78,269.63 L272.93,270.3 L273.07,270.97 L273.22,271.63 L273.36,272.29 L273.51,272.95 L273.65,273.6 L273.8,274.25 L273.94,274.9 L274.09,275.54 L274.23,276.18 L274.38,276.82 L274.52,277.45 L274.67,278.08 L274.81,278.71 L274.96,279.33 L275.1,279.95 L275.25,280.57 L275.39,281.18 L275.53,281.79 L275.68,282.4 L275.82,283.01 L275.97,283.61 L276.11,284.21 L276.26,284.8 L276.4,285.39 L276.55,285.98 L276.69,286.57 L276.84,287.15 L276.98,287.73 L277.13,288.31 L277.27,288.89 L277.42,289.46 L277.56,290.03 L277.71,290.59 L277.85,291.16 L278,291.72 L278.14,292.28 L278.28,292.83 L278.43,293.38 L278.57,293.93 L278.72,294.48 L278.86,295.02 L279.01,295.57 L279.15,296.1 L279.3,296.64 L279.44,297.17 L279.59,297.71 L279.73,298.23 L279.88,298.76 L280.02,299.28 L280.17,299.8 L280.31,300.32 L280.46,300.84 L280.6,301.35 L280.75,301.86 L280.89,302.37 L281.03,302.88 L281.18,303.38 L281.32,303.88 L281.47,304.38 L281.61,304.88 L281.76,305.37 L281.9,305.86 L282.05,306.35 L282.19,306.84 L282.34,307.32 L282.48,307.81 L282.63,308.29 L282.77,308.76 L282.92,309.24 L283.06,309.71 L283.21,310.18 L283.35,310.65 L283.5,311.12 L283.64,311.58 L283.79,312.05 L283.93,312.51 L284.07,312.97 L284.22,313.42 L284.36,313.88 L284.51,314.33 L284.65,314.78 L284.8,315.23 L284.94,315.67 L285.09,316.11 L285.23,316.56 L285.38,317 L285.52,317.43 L285.67,317.87 L285.81,318.3 L285.96,318.73 L286.1,319.16 L286.25,319.59 L286.39,320.02 L286.54,320.44 L286.68,320.86 L286.82,321.28 L286.97,321.7 L287.11,322.12 L287.26,322.53 L287.4,322.95 L287.55,323.36 L287.69,323.77 L287.84,324.17 L287.98,324.58 L288.13,324.98 L288.27,325.38 L288.42,325.78 L288.56,326.18 L288.71,326.58 L288.85,326.97 L289,327.36 L289.14,327.76 L289.29,328.15 L289.43,328.53 L289.57,328.92 L289.72,329.3 L289.86,329.69 L290.01,330.07 L290.15,330.45 L290.3,330.82 L290.44,331.2 L290.59,331.57 L290.73,331.95 L290.88,332.32 L291.02,332.69 L291.17,333.06 L291.31,333.42 L291.46,333.79 L291.6,334.15 L291.75,334.51 L291.89,334.87 L292.04,335.23 L292.18,335.59 L292.32,335.94 L292.47,336.3 L292.61,336.65 L292.76,337 L292.9,337.35 L293.05,337.7 L293.19,338.05 L293.34,338.39 L293.48,338.73 L293.63,339.08 L293.77,339.42 L293.92,339.76 L294.06,340.1 L294.21,340.43 L294.35,340.77 L294.5,341.1 L294.64,341.43 L294.79,341.76 L294.93,342.09 L295.07,342.42 L295.22,342.75 L295.36,343.07 L295.51,343.4 L295.65,343.72 L295.8,344.04 L295.94,344.36 L296.09,344.68 L296.23,345 L296.38,345.32 L296.52,345.63 L296.67,345.94 L296.81,346.26 L296.96,346.57 L297.1,346.88 L297.25,347.19 L297.39,347.49 L297.54,347.8 L297.68,348.1 L297.82,348.41 L297.97,348.71 L298.11,349.01 L298.26,349.31 L298.4,349.61 L298.55,349.91 L298.69,350.2 L298.84,350.5Z" fill="#fff"/>
<path d="M82.12,350.5 L82.27,350.2 L82.41,349.91 L82.56,349.61 L82.7,349.31 L82.85,349.01 L82.99,348.71 L83.14,348.41 L83.28,348.1 L83.43,347.8 L83.57,347.49 L83.72,347.19 L83.86,346.88 L84.01,346.57 L84.15,346.26 L84.3,345.94 L84.44,345.63 L84.59,345.32 L84.73,345 L84.87,344.68 L85.02,344.36 L85.16,344.04 L85.31,343.72 L85.45,343.4 L85.6,343.07 L85.74,342.75 L85.89,342.42 L86.03,342.09 L86.18,341.76 L86.32,341.43 L86.47,341.1 L86.61,340.77 L86.76,340.43 L86.9,340.1 L87.05,339.76 L87.19,339.42 L87.34,339.08 L87.48,338.73 L87.63,338.39 L87.77,338.05 L87.91,337.7 L88.06,337.35 L88.2,337 L88.35,336.65 L88.49,336.3 L88.64,335.94 L88.78,335.59 L88.93,335.23 L89.07,334.87 L89.22,334.51 L89.36,334.15 L89.51,333.79 L89.65,333.42 L89.8,333.06 L89.94,332.69 L90.09,332.32 L90.23,331.95 L90.38,331.57 L90.52,331.2 L90.66,330.82 L90.81,330.45 L90.95,330.07 L91.1,329.69 L91.24,329.3 L91.39,328.92 L91.53,328.53 L91.68,328.15 L91.82,327.76 L91.97,327.36 L92.11,326.97 L92.26,326.58 L92.4,326.18 L92.55,325.78 L92.69,325.38 L92.84,324.98 L92.98,324.58 L93.13,324.17 L93.27,323.77 L93.41,323.36 L93.56,322.95 L93.7,322.53 L93.85,322.12 L93.99,321.7 L94.14,321.28 L94.28,320.86 L94.43,320.44 L94.57,320.02 L94.72,319.59 L94.86,319.16 L95.01,318.73 L95.15,318.3 L95.3,317.87 L95.44,317.43 L95.59,317 L95.73,316.56 L95.88,316.11 L96.02,315.67 L96.16,315.23 L96.31,314.78 L96.45,314.33 L96.6,313.88 L96.74,313.42 L96.89,312.97 L97.03,312.51 L97.18,312.05 L97.32,311.58 L97.47,311.12 L97.61,310.65 L97.76,310.18 L97.9,309.71 L98.05,309.24 L98.19,308.76 L98.34,308.29 L98.48,307.81 L98.63,307.32 L98.77,306.84 L98.91,306.35 L99.06,305.86 L99.2,305.37 L99.35,304.88 L99.49,304.38 L99.64,303.88 L99.78,303.38 L99.93,302.88 L100.07,302.37 L100.22,301.86 L100.36,301.35 L100.51,300.84 L100.65,300.32 L100.8,299.8 L100.94,299.28 L101.09,298.76 L101.23,298.23 L101.38,297.71 L101.52,297.17 L101.66,296.64 L101.81,296.1 L101.95,295.57 L102.1,295.02 L102.24,294.48 L102.39,293.93 L102.53,293.38 L102.68,292.83 L102.82,292.28 L102.97,291.72 L103.11,291.16 L103.26,290.59 L103.4,290.03 L103.55,289.46 L103.69,288.89 L103.84,288.31 L103.98,287.73 L104.13,287.15 L104.27,286.57 L104.41,285.98 L104.56,285.39 L104.7,284.8 L104.85,284.21 L104.99,283.61 L105.14,283.01 L105.28,282.4 L105.43,281.79 L105.57,281.18 L105.72,280.57 L105.86,279.95 L106.01,279.33 L106.15,278.71 L106.3,278.08 L106.44,277.45 L106.59,276.82 L106.73,276.18 L106.88,275.54 L107.02,274.9 L107.17,274.25 L107.31,273.6 L107.45,272.95 L107.6,272.29 L107.74,271.63 L107.89,270.97 L108.03,270.3 L108.18,269.63 L108.32,268.96 L108.47,268.28 L108.61,267.6 L108.76,266.92 L108.9,266.23 L109.05,265.54 L109.19,264.84 L109.34,264.14 L109.48,263.44 L109.63,262.73 L109.77,262.02 L109.92,261.3 L110.06,260.58 L110.2,259.86 L110.35,259.14 L110.49,258.41 L110.64,257.67 L110.78,256.93 L110.93,256.19 L111.07,255.44 L111.22,254.69 L111.36,253.94 L111.51,253.18 L111.65,252.42 L111.8,251.65 L111.94,250.88 L112.09,250.1 L112.23,249.32 L112.38,248.54 L112.52,247.75 L112.67,246.96 L112.81,246.16 L112.95,245.36 L113.1,244.55 L113.24,243.74 L113.39,242.92 L113.53,242.1 L113.68,241.28 L113.82,240.45 L113.97,239.61 L114.11,238.77 L114.26,237.93 L114.4,237.08 L114.55,236.23 L114.69,235.37 L114.84,234.51 L114.98,233.64 L115.13,232.76 L115.27,231.89 L115.42,231 L115.56,230.11 L115.7,229.22 L115.85,228.32 L115.99,227.42 L116.14,226.51 L116.28,225.59 L116.43,224.67 L116.57,223.75 L116.72,222.81 L116.86,221.88 L117.01,220.94 L117.15,219.99 L117.3,219.03 L117.44,218.08 L117.59,217.11 L117.73,216.14 L117.88,215.16 L118.02,214.18 L118.17,213.19 L118.31,212.2 L118.45,211.2 L118.6,210.19 L118.74,209.18 L118.89,208.16 L119.03,207.14 L119.18,206.11 L119.32,205.07 L119.47,204.03 L119.61,202.98 L119.76,201.92 L119.9,200.86 L120.05,199.79 L120.19,198.71 L120.34,197.63 L120.48,196.54 L120.63,195.44 L120.77,194.34 L120.92,193.23 L121.06,192.12 L121.2,190.99 L121.35,189.86 L121.49,188.72 L121.64,187.58 L121.78,186.42 L121.93,185.27 L122.07,184.1 L122.22,182.92 L122.36,181.74 L122.51,180.55 L122.65,179.35 L122.8,178.15 L122.94,176.94 L123.09,175.72 L123.23,174.49 L123.38,173.25 L123.52,172.01 L123.67,170.76 L123.81,169.49 L123.96,168.23 L124.1,166.95 L124.24,165.66 L124.39,164.37 L124.53,163.07 L124.68,161.76 L124.82,160.44 L124.97,159.11 L125.11,157.77 L125.26,156.42 L125.4,155.07 L125.55,153.7 L125.69,152.33 L125.84,150.95 L125.98,149.56 L126.13,148.15 L126.27,146.74 L126.42,145.32 L126.56,143.89 L126.71,142.45 L126.85,141 L126.99,139.54 L127.14,138.07 L127.28,136.59 L127.43,135.1 L127.57,133.6 L127.72,132.09 L127.86,130.57 L128.01,129.04 L128.15,127.5 L128.3,125.94 L128.44,124.38 L128.59,122.8 L128.73,121.22 L128.88,119.62 L129.02,118.01 L129.17,116.39 L129.31,114.76 L129.46,113.12 L129.6,111.46 L129.74,109.79 L129.89,108.11 L130.03,106.42 L130.18,104.72 L130.32,103.01 L130.47,101.28 L130.61,99.54 L130.76,97.78 L130.9,96.02 L131.05,94.24 L131.19,92.45 L131.34,90.64 L131.48,88.82 L131.63,86.99 L131.77,85.15 L131.92,83.29 L132.06,81.42 L132.21,79.53 L132.35,77.63 L132.49,75.71 L132.64,73.78 L132.78,71.84 L132.93,69.88 L133.07,67.91 L133.22,65.92 L133.36,63.91 L133.51,61.9 L133.65,59.86 L133.8,57.81 L133.94,55.75 L134.09,53.66 L134.23,51.57 L134.38,49.45 L134.52,47.32 L134.67,45.17 L134.81,43.01 L134.96,40.83 L135.1,38.63 L135.24,36.42 L135.39,34.18 L135.53,31.93 L135.68,29.66 L135.82,27.38 L135.97,25.07 L136.11,22.75 L136.26,20.41 L136.4,18.05 L136.55,15.67 L136.69,13.27 L136.84,10.85 L136.98,8.41 L137.13,5.96 L137.27,3.48 L137.42,0.98 L137.56,-1.54 L137.71,-4.08 L137.85,-6.64 L137.99,-9.22 L138.14,-11.82 L138.28,-14.45 L138.43,-17.09 L138.57,-19.76 L138.72,-22.45 L138.86,-25.17 L139.01,-27.9 L139.15,-30.66 L139.3,-33.45 L139.44,-36.25 L139.59,-39.08 L139.73,-41.94 L139.88,-44.82 L140.02,-47.72" fill="none" stroke="#231f20" stroke-width="0.8" stroke-dasharray="1 2.9"/>
<path d="M298.84,350.5 L298.69,350.2 L298.55,349.91 L298.4,349.61 L298.26,349.31 L298.11,349.01 L297.97,348.71 L297.82,348.41 L297.68,348.1 L297.54,347.8 L297.39,347.49 L297.25,347.19 L297.1,346.88 L296.96,346.57 L296.81,346.26 L296.67,345.94 L296.52,345.63 L296.38,345.32 L296.23,345 L296.09,344.68 L295.94,344.36 L295.8,344.04 L295.65,343.72 L295.51,343.4 L295.36,343.07 L295.22,342.75 L295.07,342.42 L294.93,342.09 L294.79,341.76 L294.64,341.43 L294.5,341.1 L294.35,340.77 L294.21,340.43 L294.06,340.1 L293.92,339.76 L293.77,339.42 L293.63,339.08 L293.48,338.73 L293.34,338.39 L293.19,338.05 L293.05,337.7 L292.9,337.35 L292.76,337 L292.61,336.65 L292.47,336.3 L292.32,335.94 L292.18,335.59 L292.04,335.23 L291.89,334.87 L291.75,334.51 L291.6,334.15 L291.46,333.79 L291.31,333.42 L291.17,333.06 L291.02,332.69 L290.88,332.32 L290.73,331.95 L290.59,331.57 L290.44,331.2 L290.3,330.82 L290.15,330.45 L290.01,330.07 L289.86,329.69 L289.72,329.3 L289.57,328.92 L289.43,328.53 L289.29,328.15 L289.14,327.76 L289,327.36 L288.85,326.97 L288.71,326.58 L288.56,326.18 L288.42,325.78 L288.27,325.38 L288.13,324.98 L287.98,324.58 L287.84,324.17 L287.69,323.77 L287.55,323.36 L287.4,322.95 L287.26,322.53 L287.11,322.12 L286.97,321.7 L286.82,321.28 L286.68,320.86 L286.54,320.44 L286.39,320.02 L286.25,319.59 L286.1,319.16 L285.96,318.73 L285.81,318.3 L285.67,317.87 L285.52,317.43 L285.38,317 L285.23,316.56 L285.09,316.11 L284.94,315.67 L284.8,315.23 L284.65,314.78 L284.51,314.33 L284.36,313.88 L284.22,313.42 L284.07,312.97 L283.93,312.51 L283.79,312.05 L283.64,311.58 L283.5,311.12 L283.35,310.65 L283.21,310.18 L283.06,309.71 L282.92,309.24 L282.77,308.76 L282.63,308.29 L282.48,307.81 L282.34,307.32 L282.19,306.84 L282.05,306.35 L281.9,305.86 L281.76,305.37 L281.61,304.88 L281.47,304.38 L281.32,303.88 L281.18,303.38 L281.03,302.88 L280.89,302.37 L280.75,301.86 L280.6,301.35 L280.46,300.84 L280.31,300.32 L280.17,299.8 L280.02,299.28 L279.88,298.76 L279.73,298.23 L279.59,297.71 L279.44,297.17 L279.3,296.64 L279.15,296.1 L279.01,295.57 L278.86,295.02 L278.72,294.48 L278.57,293.93 L278.43,293.38 L278.28,292.83 L278.14,292.28 L278,291.72 L277.85,291.16 L277.71,290.59 L277.56,290.03 L277.42,289.46 L277.27,288.89 L277.13,288.31 L276.98,287.73 L276.84,287.15 L276.69,286.57 L276.55,285.98 L276.4,285.39 L276.26,284.8 L276.11,284.21 L275.97,283.61 L275.82,283.01 L275.68,282.4 L275.53,281.79 L275.39,281.18 L275.25,280.57 L275.1,279.95 L274.96,279.33 L274.81,278.71 L274.67,278.08 L274.52,277.45 L274.38,276.82 L274.23,276.18 L274.09,275.54 L273.94,274.9 L273.8,274.25 L273.65,273.6 L273.51,272.95 L273.36,272.29 L273.22,271.63 L273.07,270.97 L272.93,270.3 L272.78,269.63 L272.64,268.96 L272.5,268.28 L272.35,267.6 L272.21,266.92 L272.06,266.23 L271.92,265.54 L271.77,264.84 L271.63,264.14 L271.48,263.44 L271.34,262.73 L271.19,262.02 L271.05,261.3 L270.9,260.58 L270.76,259.86 L270.61,259.14 L270.47,258.41 L270.32,257.67 L270.18,256.93 L270.03,256.19 L269.89,255.44 L269.75,254.69 L269.6,253.94 L269.46,253.18 L269.31,252.42 L269.17,251.65 L269.02,250.88 L268.88,250.1 L268.73,249.32 L268.59,248.54 L268.44,247.75 L268.3,246.96 L268.15,246.16 L268.01,245.36 L267.86,244.55 L267.72,243.74 L267.57,242.92 L267.43,242.1 L267.28,241.28 L267.14,240.45 L267,239.61 L266.85,238.77 L266.71,237.93 L266.56,237.08 L266.42,236.23 L266.27,235.37 L266.13,234.51 L265.98,233.64 L265.84,232.76 L265.69,231.89 L265.55,231 L265.4,230.11 L265.26,229.22 L265.11,228.32 L264.97,227.42 L264.82,226.51 L264.68,225.59 L264.53,224.67 L264.39,223.75 L264.25,222.81 L264.1,221.88 L263.96,220.94 L263.81,219.99 L263.67,219.03 L263.52,218.08 L263.38,217.11 L263.23,216.14 L263.09,215.16 L262.94,214.18 L262.8,213.19 L262.65,212.2 L262.51,211.2 L262.36,210.19 L262.22,209.18 L262.07,208.16 L261.93,207.14 L261.78,206.11 L261.64,205.07 L261.49,204.03 L261.35,202.98 L261.21,201.92 L261.06,200.86 L260.92,199.79 L260.77,198.71 L260.63,197.63 L260.48,196.54 L260.34,195.44 L260.19,194.34 L260.05,193.23 L259.9,192.12 L259.76,190.99 L259.61,189.86 L259.47,188.72 L259.32,187.58 L259.18,186.42 L259.03,185.27 L258.89,184.1 L258.74,182.92 L258.6,181.74 L258.46,180.55 L258.31,179.35 L258.17,178.15 L258.02,176.94 L257.88,175.72 L257.73,174.49 L257.59,173.25 L257.44,172.01 L257.3,170.76 L257.15,169.49 L257.01,168.23 L256.86,166.95 L256.72,165.66 L256.57,164.37 L256.43,163.07 L256.28,161.76 L256.14,160.44 L255.99,159.11 L255.85,157.77 L255.71,156.42 L255.56,155.07 L255.42,153.7 L255.27,152.33 L255.13,150.95 L254.98,149.56 L254.84,148.15 L254.69,146.74 L254.55,145.32 L254.4,143.89 L254.26,142.45 L254.11,141 L253.97,139.54 L253.82,138.07 L253.68,136.59 L253.53,135.1 L253.39,133.6 L253.24,132.09 L253.1,130.57 L252.96,129.04 L252.81,127.5 L252.67,125.94 L252.52,124.38 L252.38,122.8 L252.23,121.22 L252.09,119.62 L251.94,118.01 L251.8,116.39 L251.65,114.76 L251.51,113.12 L251.36,111.46 L251.22,109.79 L251.07,108.11 L250.93,106.42 L250.78,104.72 L250.64,103.01 L250.49,101.28 L250.35,99.54 L250.21,97.78 L250.06,96.02 L249.92,94.24 L249.77,92.45 L249.63,90.64 L249.48,88.82 L249.34,86.99 L249.19,85.15 L249.05,83.29 L248.9,81.42 L248.76,79.53 L248.61,77.63 L248.47,75.71 L248.32,73.78 L248.18,71.84 L248.03,69.88 L247.89,67.91 L247.74,65.92 L247.6,63.91 L247.46,61.9 L247.31,59.86 L247.17,57.81 L247.02,55.75 L246.88,53.66 L246.73,51.57 L246.59,49.45 L246.44,47.32 L246.3,45.17 L246.15,43.01 L246.01,40.83 L245.86,38.63 L245.72,36.42 L245.57,34.18 L245.43,31.93 L245.28,29.66 L245.14,27.38 L244.99,25.07 L244.85,22.75 L244.7,20.41 L244.56,18.05 L244.42,15.67 L244.27,13.27 L244.13,10.85 L243.98,8.41 L243.84,5.96 L243.69,3.48 L243.55,0.98 L243.4,-1.54 L243.26,-4.08 L243.11,-6.64 L242.97,-9.22 L242.82,-11.82 L242.68,-14.45 L242.53,-17.09 L242.39,-19.76 L242.24,-22.45 L242.1,-25.17 L241.95,-27.9 L241.81,-30.66 L241.67,-33.45 L241.52,-36.25 L241.38,-39.08 L241.23,-41.94 L241.09,-44.82 L240.94,-47.72" fill="none" stroke="#231f20" stroke-width="0.8" stroke-dasharray="1 2.9"/>
</g>
<line x1="190.3" x2="190.3" y1="16.5" y2="350.5" stroke="#2b2829" stroke-width="1"/>
<circle cx="195.36" cy="29.5" r="3.2" fill="#231f20"/>
<circle cx="206" cy="96.23" r="3.2" fill="#231f20"/>
<circle cx="180.79" cy="207.84" r="3.2" fill="#231f20"/>
<circle cx="157.42" cy="244.74" r="3.2" fill="#231f20"/>
<circle cx="183.65" cy="253.37" r="3.2" fill="#231f20"/>
<circle cx="202.41" cy="267.27" r="3.2" fill="#231f20"/>
<circle cx="195.77" cy="272.08" r="3.2" fill="#231f20"/>
<circle cx="180.7" cy="306.99" r="3.2" fill="#231f20"/>
<circle cx="186.61" cy="329.54" r="3.2" fill="#231f20"/>
<circle cx="204.4" cy="350.5" r="3.2" fill="#231f20"/>
<path d="M49.65,16 V363 H331" fill="none" stroke="#454547" stroke-width="1.2" stroke-linejoin="round"/>
<line x1="42" x2="49" y1="29.5" y2="29.5" stroke="#454547" stroke-width="1"/>
<line x1="42" x2="49" y1="109.75" y2="109.75" stroke="#454547" stroke-width="1"/>
<line x1="42" x2="49" y1="190" y2="190" stroke="#454547" stroke-width="1"/>
<line x1="42" x2="49" y1="270.25" y2="270.25" stroke="#454547" stroke-width="1"/>
<line x1="42" x2="49" y1="350.5" y2="350.5" stroke="#454547" stroke-width="1"/>
<line x1="102" x2="102" y1="363.5" y2="370.5" stroke="#454547" stroke-width="1"/>
<line x1="169.75" x2="169.75" y1="363.5" y2="370.5" stroke="#454547" stroke-width="1"/>
<line x1="237.5" x2="237.5" y1="363.5" y2="370.5" stroke="#454547" stroke-width="1"/>
<line x1="305.25" x2="305.25" y1="363.5" y2="370.5" stroke="#454547" stroke-width="1"/>
<g filter="url(#gs)"><text transform="translate(32.8,29.5) rotate(-90)" text-anchor="middle" font-size="12">23.494</text>
<text transform="translate(32.8,109.75) rotate(-90)" text-anchor="middle" font-size="12">19.121</text>
<text transform="translate(32.8,190) rotate(-90)" text-anchor="middle" font-size="12">14.747</text>
<text transform="translate(32.8,270.25) rotate(-90)" text-anchor="middle" font-size="12">10.374</text>
<text transform="translate(32.8,350.5) rotate(-90)" text-anchor="middle" font-size="12">6</text>
<text x="102" y="386.2" text-anchor="middle" font-size="12">0.5</text>
<text x="169.75" y="386.2" text-anchor="middle" font-size="12">1</text>
<text x="237.5" y="386.2" text-anchor="middle" font-size="12">1.5</text>
<text x="305.25" y="386.2" text-anchor="middle" font-size="12">2</text>
<text x="198.8" y="406.9" text-anchor="middle" font-size="14.7">Log Odds Ratio</text>
<text x="190.5" y="8.3" text-anchor="middle" font-size="14.5" font-weight="bold">Inverse Sampling Variance</text>
<text transform="translate(11.1,179.3) rotate(-90)" text-anchor="middle" font-size="14.7" letter-spacing="-0.13">Inverse Variance</text></g>
</g>
</svg>
</body></html>
